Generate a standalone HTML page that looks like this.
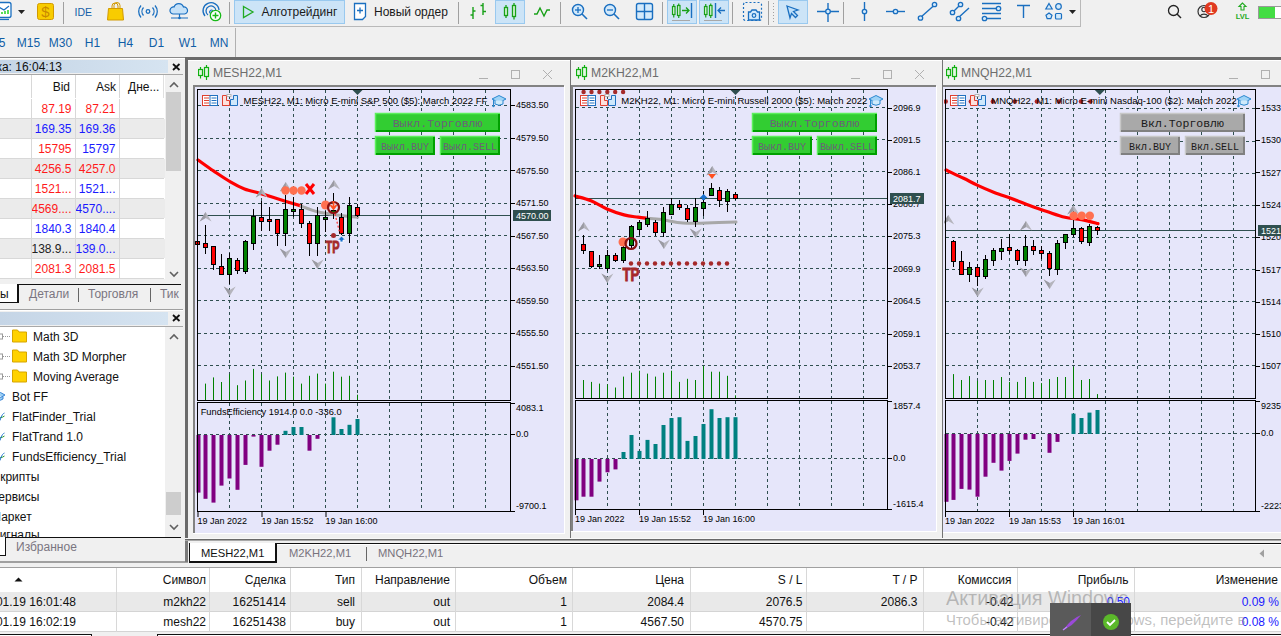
<!DOCTYPE html><html><head><meta charset="utf-8"><style>html,body{margin:0;padding:0;}body{width:1281px;height:636px;overflow:hidden;position:relative;background:#f0f0f0;font-family:"Liberation Sans",sans-serif;}</style></head><body><div style="position:absolute;left:0px;top:26px;width:1081px;height:1px;background:#b9b9b9;"></div><div style="position:absolute;left:1080px;top:0px;width:1px;height:27px;background:#b9b9b9;"></div><div style="position:absolute;left:63px;top:2px;width:1px;height:22px;background:#a0a0a0;"></div><div style="position:absolute;left:229px;top:2px;width:1px;height:22px;background:#a0a0a0;"></div><div style="position:absolute;left:458px;top:2px;width:1px;height:22px;background:#a0a0a0;"></div><div style="position:absolute;left:560px;top:2px;width:1px;height:22px;background:#a0a0a0;"></div><div style="position:absolute;left:662px;top:2px;width:1px;height:22px;background:#a0a0a0;"></div><div style="position:absolute;left:732px;top:2px;width:1px;height:22px;background:#a0a0a0;"></div><div style="position:absolute;left:768px;top:1px;width:1px;height:24px;background:#a0a0a0;"></div><div style="position:absolute;left:843px;top:2px;width:1px;height:22px;background:#a0a0a0;"></div><div style="position:absolute;left:234px;top:0px;width:111px;height:24px;background:#cce4f7;box-sizing:border-box;border:1px solid #99c9ef;"></div><div style="position:absolute;left:495px;top:0px;width:30px;height:24px;background:#cce4f7;box-sizing:border-box;border:1px solid #99c9ef;"></div><div style="position:absolute;left:667px;top:0px;width:30px;height:24px;background:#cce4f7;box-sizing:border-box;border:1px solid #99c9ef;"></div><div style="position:absolute;left:699px;top:0px;width:30px;height:24px;background:#cce4f7;box-sizing:border-box;border:1px solid #99c9ef;"></div><div style="position:absolute;left:778px;top:0px;width:30px;height:24px;background:#cce4f7;box-sizing:border-box;border:1px solid #99c9ef;"></div><svg style="position:absolute;left:0px;top:0px;" width="1281" height="26" viewBox="0 0 1281 26"><rect x="-4" y="2.5" width="15" height="15" rx="2" fill="#fff" stroke="#1a6fc0" stroke-width="1.3"/><path d="M-3 6 L4 10 L9 6" fill="none" stroke="#1a6fc0" stroke-width="1.2"/><path d="M2 14v-2 M5 14v-3 M8 14v-4" stroke="#0c0" stroke-width="1.3"/><path d="M-3 19.5 H9" stroke="#1a6fc0" stroke-width="1.2"/><path d="M18 10 h7 l-3.5 4z" fill="#222"/><rect x="37.5" y="3.5" width="16" height="16" rx="2" fill="#f8cc00" stroke="#d29a00" stroke-width="1"/><text x="45.5" y="17" font-size="15" text-anchor="middle" fill="#c98a00" font-family="Liberation Sans">$</text><text x="74.5" y="16" font-size="11.5" fill="#1560a8" font-family="Liberation Sans" textLength="17.5" lengthAdjust="spacingAndGlyphs">IDE</text><path d="M108.5 8.5 h14 l1 11.5 h-16z" fill="#f8cc00" stroke="#d29a00" stroke-width="1"/><path d="M112 8.5 v-2.5 a3 3 0 0 1 6 0 v2.5 M114 8.5 v-3 a3 3 0 0 1 6 0 v3" fill="none" stroke="#d29a00" stroke-width="1"/><circle cx="148" cy="11.5" r="1.8" fill="none" stroke="#1a6fc0" stroke-width="1.3"/><path d="M143.5 7.5 a6 6 0 0 0 0 8 M152.5 7.5 a6 6 0 0 1 0 8 M141 5.5 a9 9 0 0 0 0 12 M155 5.5 a9 9 0 0 1 0 12" fill="none" stroke="#1a6fc0" stroke-width="1.3"/><path d="M173 14 a3.5 3.5 0 0 1 1-7 a5 5 0 0 1 9.5 0 a3.5 3.5 0 0 1 1 7z" fill="#c5e1f8" stroke="#1a6fc0" stroke-width="1.2"/><path d="M179.5 14 v4 M171 18 h17" stroke="#1a6fc0" stroke-width="1.2"/><circle cx="179.5" cy="18" r="1.3" fill="#1a6fc0"/><path d="M205 16 a8 8 0 1 1 14 -6 M208 15 a5 5 0 1 1 8 -4" fill="none" stroke="#1a6fc0" stroke-width="1.3"/><circle cx="211.5" cy="12" r="2" fill="#8ec3ee" stroke="#1a6fc0"/><circle cx="215.5" cy="15.5" r="5.2" fill="#fff" stroke="#18b918" stroke-width="1.3"/><path d="M215.5 12.5v6 M212.5 15.5h6" stroke="#18b918" stroke-width="1.4"/><path d="M243.5 6.5 L253 12 L243.5 17.5z" fill="none" stroke="#22aa22" stroke-width="1.3"/><path d="M354.5 3.5 h11 v13 l-3 3 h-8z" fill="#fff" stroke="#1a6fc0" stroke-width="1.3"/><path d="M360 7.5v6 M357 10.5h6" stroke="#1a6fc0" stroke-width="1.3"/><path d="M473 7v12 M470.5 15h2.5 M473 11h2.5 M483 3v12 M480.5 5.5h2.5 M483 11.5h3" stroke="#18a018" stroke-width="1.4" fill="none"/><rect x="504.5" y="7.5" width="3" height="8" fill="#d9f5d9" stroke="#18a018" stroke-width="1.3"/><path d="M506 5v2.5 M506 15.5v2.5" stroke="#18a018" stroke-width="1.3"/><rect x="512.5" y="5.5" width="3" height="11" fill="#d9f5d9" stroke="#18a018" stroke-width="1.3"/><path d="M514 3v2.5 M514 16.5v3" stroke="#18a018" stroke-width="1.3"/><path d="M534 14 h3 l3 -6 l4 8 l3 -6 h3" fill="none" stroke="#18a018" stroke-width="1.4"/><circle cx="578" cy="10" r="5.5" fill="#d4eafb" stroke="#1a6fc0" stroke-width="1.4"/><path d="M582 14 l5 5" stroke="#1a6fc0" stroke-width="1.6"/><path d="M575 10h6" stroke="#1a6fc0" stroke-width="1.3"/><path d="M578 7v6" stroke="#1a6fc0" stroke-width="1.3"/><circle cx="610" cy="10" r="5.5" fill="#d4eafb" stroke="#1a6fc0" stroke-width="1.4"/><path d="M614 14 l5 5" stroke="#1a6fc0" stroke-width="1.6"/><path d="M607 10h6" stroke="#1a6fc0" stroke-width="1.3"/><rect x="636.5" y="3.5" width="16" height="16" rx="2" fill="#d4eafb" stroke="#1a6fc0" stroke-width="1.4"/><path d="M644.5 3.5v16 M636.5 11.5h16" stroke="#1a6fc0" stroke-width="1.4"/><rect x="672.5" y="6.5" width="2.5" height="8" fill="#d9f5d9" stroke="#18a018" stroke-width="1.2"/><path d="M673.75 4v2.5 M673.75 14.5v3" stroke="#18a018" stroke-width="1.2"/><rect x="677.5" y="5.5" width="2.5" height="10" fill="#d9f5d9" stroke="#18a018" stroke-width="1.2"/><path d="M678.75 3.5v2 M678.75 15.5v2.5" stroke="#18a018" stroke-width="1.2"/><path d="M672 20.5h18" stroke="#a8a8a8" stroke-width="1"/><path d="M682 10.5h7 M686 7.5l3 3l-3 3" fill="none" stroke="#18a018" stroke-width="1.3"/><path d="M691.5 3v15" stroke="#1a6fc0" stroke-width="1.4"/><rect x="704.5" y="6.5" width="2.5" height="8" fill="#d9f5d9" stroke="#18a018" stroke-width="1.2"/><path d="M705.75 4v2.5 M705.75 14.5v3" stroke="#18a018" stroke-width="1.2"/><rect x="709.5" y="5.5" width="2.5" height="10" fill="#d9f5d9" stroke="#18a018" stroke-width="1.2"/><path d="M710.75 3.5v2 M710.75 15.5v2.5" stroke="#18a018" stroke-width="1.2"/><path d="M704 20.5h18" stroke="#a8a8a8" stroke-width="1"/><path d="M715.5 3v15" stroke="#1a6fc0" stroke-width="1.4"/><path d="M718 10.5h7 M721 7.5l-3 3l3 3" fill="none" stroke="#1a6fc0" stroke-width="1.3"/><rect x="743.5" y="2.5" width="18" height="18" rx="2" fill="none" stroke="#1a6fc0" stroke-width="1.2" stroke-dasharray="2 2"/><path d="M748.5 12 h2 l1.5 -2 h4 l1.5 2 h2 v8 h-11z" fill="#d4eafb" stroke="#1a6fc0" stroke-width="1.3"/><circle cx="754" cy="15.5" r="1.8" fill="none" stroke="#1a6fc0" stroke-width="1.2"/><rect x="773" y="3" width="1" height="1" fill="#a0a0a0"/><rect x="773" y="6" width="1" height="1" fill="#a0a0a0"/><rect x="773" y="9" width="1" height="1" fill="#a0a0a0"/><rect x="773" y="12" width="1" height="1" fill="#a0a0a0"/><rect x="773" y="15" width="1" height="1" fill="#a0a0a0"/><rect x="773" y="18" width="1" height="1" fill="#a0a0a0"/><rect x="773" y="21" width="1" height="1" fill="#a0a0a0"/><path d="M787 6 l11 4 l-4.5 1.5 l4 4 l-2 2 l-4 -4 l-1.5 4.5z" fill="#bfe0fa" stroke="#1a6fc0" stroke-width="1.3"/><path d="M828 3v19 M817 11.5h22" stroke="#1a6fc0" stroke-width="1.4"/><circle cx="828" cy="11.5" r="2.3" fill="#d4eafb" stroke="#1a6fc0" stroke-width="1.3"/><path d="M864.5 2v19" stroke="#1a6fc0" stroke-width="1.4"/><circle cx="864.5" cy="11.5" r="2.2" fill="#d4eafb" stroke="#1a6fc0" stroke-width="1.3"/><path d="M886 11.5h19" stroke="#1a6fc0" stroke-width="1.4"/><circle cx="895.5" cy="11.5" r="2.2" fill="#d4eafb" stroke="#1a6fc0" stroke-width="1.3"/><path d="M920.5 17.5 L934.5 5" stroke="#1a6fc0" stroke-width="1.4"/><circle cx="920.5" cy="18" r="2.2" fill="#d4eafb" stroke="#1a6fc0" stroke-width="1.3"/><circle cx="934.5" cy="4.5" r="2.2" fill="#d4eafb" stroke="#1a6fc0" stroke-width="1.3"/><path d="M952.5 12.5 L960.5 4.5 M958 18 L969 8" stroke="#1a6fc0" stroke-width="1.4"/><circle cx="952.5" cy="12.5" r="2.2" fill="#d4eafb" stroke="#1a6fc0" stroke-width="1.3"/><circle cx="960.5" cy="4.5" r="2.2" fill="#d4eafb" stroke="#1a6fc0" stroke-width="1.3"/><circle cx="958.5" cy="18.5" r="2.2" fill="#d4eafb" stroke="#1a6fc0" stroke-width="1.3"/><path d="M982 3.5h19 M982 8.5h16 M982 13.5h19 M985 18.5h16" stroke="#1a6fc0" stroke-width="1.4"/><circle cx="998.5" cy="8.5" r="2.2" fill="#d4eafb" stroke="#1a6fc0" stroke-width="1.3"/><circle cx="984.5" cy="18.5" r="2.2" fill="#d4eafb" stroke="#1a6fc0" stroke-width="1.3"/><path d="M1017 5.5h13 M1023.5 5.5v12.5" stroke="#1a6fc0" stroke-width="1.4"/><path d="M1049 3.5 l3.2 5.5 h-6.4z" fill="#d4eafb" stroke="#1a6fc0" stroke-width="1.2"/><circle cx="1058.5" cy="6.5" r="2.8" fill="#d4eafb" stroke="#1a6fc0" stroke-width="1.2"/><path d="M1049 13 l3 2.2 l-1.2 3.5 h-3.6 l-1.2 -3.5z" fill="#d4eafb" stroke="#1a6fc0" stroke-width="1.2"/><rect x="1055.5" y="13.5" width="6" height="5.5" rx="1" fill="#d4eafb" stroke="#1a6fc0" stroke-width="1.2"/><path d="M1069 10 h7 l-3.5 4z" fill="#222"/><circle cx="1173.5" cy="10.5" r="5" fill="none" stroke="#222" stroke-width="1.3"/><path d="M1177 14 l4 4" stroke="#222" stroke-width="1.5"/><circle cx="1204" cy="11.5" r="6" fill="none" stroke="#333" stroke-width="1.2"/><circle cx="1204" cy="9.5" r="2.2" fill="none" stroke="#333" stroke-width="1.1"/><path d="M1200 16 a4.5 3.5 0 0 1 8 0" fill="none" stroke="#333" stroke-width="1.1"/><circle cx="1211" cy="8.5" r="6.5" fill="#e03a20"/><text x="1211" y="12.5" font-size="11" text-anchor="middle" fill="#fff" font-family="Liberation Sans">1</text><path d="M1242.5 3 l-3.5 3.5 h2 v3.5 h3 v-3.5 h2z" fill="none" stroke="#22aa22" stroke-width="1.1"/><text x="1242.5" y="19" font-size="7.5" text-anchor="middle" fill="#22aa22" font-family="Liberation Sans" font-weight="bold">LVL</text><rect x="1258.5" y="6.5" width="30" height="12" fill="#fff" stroke="#999"/><rect x="1259" y="7" width="16" height="11" fill="#44dd44"/></svg><div style="position:absolute;left:261.5px;top:6.2px;font-size:12px;line-height:12px;color:#1a1a1a;white-space:nowrap;font-family:"Liberation Sans", sans-serif;">Алготрейдинг</div><div style="position:absolute;left:374px;top:6.2px;font-size:12px;line-height:12px;color:#1a1a1a;white-space:nowrap;font-family:"Liberation Sans", sans-serif;">Новый ордер</div><div style="position:absolute;left:0px;top:57px;width:1281px;height:1px;background:#a8a8a8;"></div><div style="position:absolute;left:235px;top:28px;width:1px;height:29px;background:#b0b0b0;"></div><div style="position:absolute;left:-11.2px;top:36.7px;font-size:12px;line-height:12px;color:#115ea6;white-space:nowrap;font-family:"Liberation Sans", sans-serif;">M5</div><div style="position:absolute;left:16.8px;top:36.7px;font-size:12px;line-height:12px;color:#115ea6;white-space:nowrap;font-family:"Liberation Sans", sans-serif;">M15</div><div style="position:absolute;left:48.8px;top:36.7px;font-size:12px;line-height:12px;color:#115ea6;white-space:nowrap;font-family:"Liberation Sans", sans-serif;">M30</div><div style="position:absolute;left:84.8px;top:36.7px;font-size:12px;line-height:12px;color:#115ea6;white-space:nowrap;font-family:"Liberation Sans", sans-serif;">H1</div><div style="position:absolute;left:117.8px;top:36.7px;font-size:12px;line-height:12px;color:#115ea6;white-space:nowrap;font-family:"Liberation Sans", sans-serif;">H4</div><div style="position:absolute;left:148.8px;top:36.7px;font-size:12px;line-height:12px;color:#115ea6;white-space:nowrap;font-family:"Liberation Sans", sans-serif;">D1</div><div style="position:absolute;left:178.8px;top:36.7px;font-size:12px;line-height:12px;color:#115ea6;white-space:nowrap;font-family:"Liberation Sans", sans-serif;">W1</div><div style="position:absolute;left:209.8px;top:36.7px;font-size:12px;line-height:12px;color:#115ea6;white-space:nowrap;font-family:"Liberation Sans", sans-serif;">MN</div><div style="position:absolute;left:0px;top:57px;width:185px;height:1px;background:#8a8a8a;"></div><div style="position:absolute;left:0px;top:58px;width:185px;height:1px;background:#ffffff;"></div><div style="position:absolute;left:0px;top:60px;width:168px;height:13px;background:linear-gradient(90deg,#c5d5e6,#d6e4f1);"></div><div style="position:absolute;left:-63.5px;top:60.7px;font-size:12px;line-height:12px;color:#111;white-space:nowrap;font-family:"Liberation Sans", sans-serif;">Обзор рынка: 16:04:13</div><svg style="position:absolute;left:172px;top:63px" width="9" height="8"><path d="M1 1l6.5 6M7.5 1l-6.5 6" stroke="#111" stroke-width="1.8"/></svg><div style="position:absolute;left:0px;top:74px;width:183px;height:1px;background:#a8a8a8;"></div><div style="position:absolute;left:0px;top:75px;width:165px;height:205px;background:#ffffff;"></div><div style="position:absolute;left:0px;top:118px;width:164px;height:1px;background:#d8d8d8;"></div><div style="position:absolute;right:1209.5px;text-align:right;top:102.7px;font-size:12px;line-height:12px;color:#ff1a1a;white-space:nowrap;font-family:"Liberation Sans", sans-serif;letter-spacing:-0.6px;">87.19</div><div style="position:absolute;right:1165.5px;text-align:right;top:102.7px;font-size:12px;line-height:12px;color:#ff1a1a;white-space:nowrap;font-family:"Liberation Sans", sans-serif;letter-spacing:-0.6px;">87.21</div><div style="position:absolute;left:0px;top:119px;width:165px;height:19px;background:#ebebeb;"></div><div style="position:absolute;left:0px;top:138px;width:164px;height:1px;background:#d8d8d8;"></div><div style="position:absolute;right:1209.5px;text-align:right;top:122.7px;font-size:12px;line-height:12px;color:#1a1aff;white-space:nowrap;font-family:"Liberation Sans", sans-serif;letter-spacing:-0.6px;">169.35</div><div style="position:absolute;right:1165.5px;text-align:right;top:122.7px;font-size:12px;line-height:12px;color:#1a1aff;white-space:nowrap;font-family:"Liberation Sans", sans-serif;letter-spacing:-0.6px;">169.36</div><div style="position:absolute;left:0px;top:158px;width:164px;height:1px;background:#d8d8d8;"></div><div style="position:absolute;right:1209.5px;text-align:right;top:142.7px;font-size:12px;line-height:12px;color:#ff1a1a;white-space:nowrap;font-family:"Liberation Sans", sans-serif;letter-spacing:-0.6px;">15795</div><div style="position:absolute;right:1165.5px;text-align:right;top:142.7px;font-size:12px;line-height:12px;color:#1a1aff;white-space:nowrap;font-family:"Liberation Sans", sans-serif;letter-spacing:-0.6px;">15797</div><div style="position:absolute;left:0px;top:159px;width:165px;height:19px;background:#ebebeb;"></div><div style="position:absolute;left:0px;top:178px;width:164px;height:1px;background:#d8d8d8;"></div><div style="position:absolute;right:1209.5px;text-align:right;top:162.7px;font-size:12px;line-height:12px;color:#ff1a1a;white-space:nowrap;font-family:"Liberation Sans", sans-serif;letter-spacing:-0.6px;">4256.5</div><div style="position:absolute;right:1165.5px;text-align:right;top:162.7px;font-size:12px;line-height:12px;color:#ff1a1a;white-space:nowrap;font-family:"Liberation Sans", sans-serif;letter-spacing:-0.6px;">4257.0</div><div style="position:absolute;left:0px;top:198px;width:164px;height:1px;background:#d8d8d8;"></div><div style="position:absolute;right:1209.5px;text-align:right;top:182.7px;font-size:12px;line-height:12px;color:#ff1a1a;white-space:nowrap;font-family:"Liberation Sans", sans-serif;letter-spacing:-0.6px;">1521...</div><div style="position:absolute;right:1165.5px;text-align:right;top:182.7px;font-size:12px;line-height:12px;color:#1a1aff;white-space:nowrap;font-family:"Liberation Sans", sans-serif;letter-spacing:-0.6px;">1521...</div><div style="position:absolute;left:0px;top:199px;width:165px;height:19px;background:#ebebeb;"></div><div style="position:absolute;left:0px;top:218px;width:164px;height:1px;background:#d8d8d8;"></div><div style="position:absolute;right:1209.5px;text-align:right;top:202.7px;font-size:12px;line-height:12px;color:#ff1a1a;white-space:nowrap;font-family:"Liberation Sans", sans-serif;letter-spacing:-0.6px;">4569....</div><div style="position:absolute;right:1165.5px;text-align:right;top:202.7px;font-size:12px;line-height:12px;color:#1a1aff;white-space:nowrap;font-family:"Liberation Sans", sans-serif;letter-spacing:-0.6px;">4570....</div><div style="position:absolute;left:0px;top:238px;width:164px;height:1px;background:#d8d8d8;"></div><div style="position:absolute;right:1209.5px;text-align:right;top:222.7px;font-size:12px;line-height:12px;color:#1a1aff;white-space:nowrap;font-family:"Liberation Sans", sans-serif;letter-spacing:-0.6px;">1840.3</div><div style="position:absolute;right:1165.5px;text-align:right;top:222.7px;font-size:12px;line-height:12px;color:#1a1aff;white-space:nowrap;font-family:"Liberation Sans", sans-serif;letter-spacing:-0.6px;">1840.4</div><div style="position:absolute;left:0px;top:239px;width:165px;height:19px;background:#ebebeb;"></div><div style="position:absolute;left:0px;top:258px;width:164px;height:1px;background:#d8d8d8;"></div><div style="position:absolute;right:1209.5px;text-align:right;top:242.7px;font-size:12px;line-height:12px;color:#222;white-space:nowrap;font-family:"Liberation Sans", sans-serif;letter-spacing:-0.6px;">138.9...</div><div style="position:absolute;right:1165.5px;text-align:right;top:242.7px;font-size:12px;line-height:12px;color:#1a1aff;white-space:nowrap;font-family:"Liberation Sans", sans-serif;letter-spacing:-0.6px;">139.0...</div><div style="position:absolute;left:0px;top:278px;width:164px;height:1px;background:#d8d8d8;"></div><div style="position:absolute;right:1209.5px;text-align:right;top:262.7px;font-size:12px;line-height:12px;color:#ff1a1a;white-space:nowrap;font-family:"Liberation Sans", sans-serif;letter-spacing:-0.6px;">2081.3</div><div style="position:absolute;right:1165.5px;text-align:right;top:262.7px;font-size:12px;line-height:12px;color:#ff1a1a;white-space:nowrap;font-family:"Liberation Sans", sans-serif;letter-spacing:-0.6px;">2081.5</div><div style="position:absolute;left:31px;top:75px;width:1px;height:204px;background:#d8d8d8;"></div><div style="position:absolute;left:75px;top:75px;width:1px;height:204px;background:#d8d8d8;"></div><div style="position:absolute;left:119px;top:75px;width:1px;height:204px;background:#d8d8d8;"></div><div style="position:absolute;left:163px;top:75px;width:1px;height:24px;background:#e0e0e0;"></div><div style="position:absolute;right:1211px;text-align:right;top:81.2px;font-size:12px;line-height:12px;color:#111;white-space:nowrap;font-family:"Liberation Sans", sans-serif;">Bid</div><div style="position:absolute;right:1165px;text-align:right;top:81.2px;font-size:12px;line-height:12px;color:#111;white-space:nowrap;font-family:"Liberation Sans", sans-serif;">Ask</div><div style="position:absolute;left:128px;top:81.2px;font-size:12px;line-height:12px;color:#111;white-space:nowrap;font-family:"Liberation Sans", sans-serif;">Дне...</div><div style="position:absolute;left:0px;top:98px;width:164px;height:1px;background:#ffffff;"></div><div style="position:absolute;left:165px;top:75px;width:18px;height:205px;background:#f0f0f0;"></div><div style="position:absolute;left:166px;top:92px;width:15px;height:79px;background:#cdcdcd;"></div><svg style="position:absolute;left:165px;top:78px" width="18" height="202"><path d="M5 9l4-4l4 4" fill="none" stroke="#606060" stroke-width="1.6"/><path d="M5 194l4 4l4-4" fill="none" stroke="#606060" stroke-width="1.6"/></svg><div style="position:absolute;left:0px;top:279px;width:183px;height:30px;background:#f0f0f0;"></div><div style="position:absolute;left:18px;top:284px;width:163px;height:1px;background:#111;"></div><div style="position:absolute;left:0px;top:284px;width:18px;height:19px;background:#ffffff;box-sizing:border-box;border-right:1px solid #111;border-bottom:1px solid #111;"></div><div style="position:absolute;left:18px;top:284px;width:1px;height:19px;background:#111;"></div><div style="position:absolute;left:-43.3px;top:287.7px;font-size:12px;line-height:12px;color:#111;white-space:nowrap;font-family:"Liberation Sans", sans-serif;">Символы</div><div style="position:absolute;left:29px;top:287.7px;font-size:12px;line-height:12px;color:#7a7580;white-space:nowrap;font-family:"Liberation Sans", sans-serif;">Детали</div><div style="position:absolute;left:78px;top:288px;width:1px;height:14px;background:#666;"></div><div style="position:absolute;left:88px;top:287.7px;font-size:12px;line-height:12px;color:#7a7580;white-space:nowrap;font-family:"Liberation Sans", sans-serif;">Торговля</div><div style="position:absolute;left:150px;top:288px;width:1px;height:14px;background:#666;"></div><div style="position:absolute;left:160px;top:287.7px;font-size:12px;line-height:12px;color:#7a7580;white-space:nowrap;font-family:"Liberation Sans", sans-serif;">Тик</div><div style="position:absolute;left:0px;top:309px;width:185px;height:1px;background:#a0a0a0;"></div><div style="position:absolute;left:0px;top:310px;width:185px;height:1px;background:#ffffff;"></div><div style="position:absolute;left:0px;top:312px;width:168px;height:13px;background:linear-gradient(90deg,#c5d5e6,#d6e4f1);"></div><svg style="position:absolute;left:172px;top:314px" width="9" height="8"><path d="M1 1l6.5 6M7.5 1l-6.5 6" stroke="#111" stroke-width="1.8"/></svg><div style="position:absolute;left:0px;top:326px;width:183px;height:1px;background:#a8a8a8;"></div><div style="position:absolute;left:0px;top:327px;width:165px;height:210px;background:#ffffff;"></div><div style="position:absolute;left:165px;top:327px;width:18px;height:210px;background:#f0f0f0;"></div><div style="position:absolute;left:166px;top:492px;width:15px;height:23px;background:#cdcdcd;"></div><svg style="position:absolute;left:165px;top:329px" width="18" height="206"><path d="M5 10l4-4l4 4" fill="none" stroke="#606060" stroke-width="1.6"/><path d="M5 196l4 4l4-4" fill="none" stroke="#606060" stroke-width="1.6"/></svg><svg style="position:absolute;left:0px;top:327px;" width="165" height="210" viewBox="0 0 165 210"><rect x="-2.5" y="7.0" width="5" height="5" fill="#fff" stroke="#9a9a9a"/><path d="M3 9.5h7" stroke="#9a9a9a" stroke-dasharray="1 1"/><path d="M12.5 3.0 h5 l1.5 2 h7.5 v10 h-14z" fill="#ffd200" stroke="#d6a500" stroke-width="1"/><rect x="-2.5" y="27.0" width="5" height="5" fill="#fff" stroke="#9a9a9a"/><path d="M3 29.5h7" stroke="#9a9a9a" stroke-dasharray="1 1"/><path d="M12.5 23.0 h5 l1.5 2 h7.5 v10 h-14z" fill="#ffd200" stroke="#d6a500" stroke-width="1"/><rect x="-2.5" y="47.0" width="5" height="5" fill="#fff" stroke="#9a9a9a"/><path d="M3 49.5h7" stroke="#9a9a9a" stroke-dasharray="1 1"/><path d="M12.5 43.0 h5 l1.5 2 h7.5 v10 h-14z" fill="#ffd200" stroke="#d6a500" stroke-width="1"/><path d="M-4 68 l4.5 -2.5 l4.5 2.5 l-4.5 2.5z M-2 69.5 v2.5 l2.5 1.2 l2.5 -1.2 v-2.5" fill="#9ccff5" stroke="#2a7ad0" stroke-width="0.9"/><path d="M-0.5 91.0 q3 -0.5 5 -2" fill="none" stroke="#2a9a2a" stroke-width="1"/><path d="M0 93.5 q1 -4 2.5 -6 q0.8 -1 2 -1.5" fill="none" stroke="#2a7ad0" stroke-width="1"/><path d="M-0.5 111.0 q3 -0.5 5 -2" fill="none" stroke="#2a9a2a" stroke-width="1"/><path d="M0 113.5 q1 -4 2.5 -6 q0.8 -1 2 -1.5" fill="none" stroke="#2a7ad0" stroke-width="1"/><path d="M-0.5 131.0 q3 -0.5 5 -2" fill="none" stroke="#2a9a2a" stroke-width="1"/><path d="M0 133.5 q1 -4 2.5 -6 q0.8 -1 2 -1.5" fill="none" stroke="#2a7ad0" stroke-width="1"/></svg><div style="position:absolute;left:33px;top:330.7px;font-size:12px;line-height:12px;color:#111;white-space:nowrap;font-family:"Liberation Sans", sans-serif;">Math 3D</div><div style="position:absolute;left:33px;top:350.7px;font-size:12px;line-height:12px;color:#111;white-space:nowrap;font-family:"Liberation Sans", sans-serif;">Math 3D Morpher</div><div style="position:absolute;left:33px;top:370.7px;font-size:12px;line-height:12px;color:#111;white-space:nowrap;font-family:"Liberation Sans", sans-serif;">Moving Average</div><div style="position:absolute;left:12px;top:390.7px;font-size:12px;line-height:12px;color:#111;white-space:nowrap;font-family:"Liberation Sans", sans-serif;">Bot FF</div><div style="position:absolute;left:12px;top:410.7px;font-size:12px;line-height:12px;color:#111;white-space:nowrap;font-family:"Liberation Sans", sans-serif;">FlatFinder_Trial</div><div style="position:absolute;left:12px;top:430.7px;font-size:12px;line-height:12px;color:#111;white-space:nowrap;font-family:"Liberation Sans", sans-serif;">FlatTrand 1.0</div><div style="position:absolute;left:12px;top:450.7px;font-size:12px;line-height:12px;color:#111;white-space:nowrap;font-family:"Liberation Sans", sans-serif;">FundsEfficiency_Trial</div><div style="position:absolute;left:-8.5px;top:470.7px;font-size:12px;line-height:12px;color:#111;white-space:nowrap;font-family:"Liberation Sans", sans-serif;">Скрипты</div><div style="position:absolute;left:-10.3px;top:490.7px;font-size:12px;line-height:12px;color:#111;white-space:nowrap;font-family:"Liberation Sans", sans-serif;">Сервисы</div><div style="position:absolute;left:-9px;top:510.7px;font-size:12px;line-height:12px;color:#111;white-space:nowrap;font-family:"Liberation Sans", sans-serif;">Маркет</div><div style="position:absolute;left:0;top:530px;width:165px;height:7px;overflow:hidden"><div style="position:absolute;left:-9px;top:-0.8px;font-size:12px;line-height:12px;color:#111;font-family:'Liberation Sans',sans-serif">Сигналы</div></div><div style="position:absolute;left:0px;top:537px;width:183px;height:21px;background:#f0f0f0;"></div><div style="position:absolute;left:6px;top:537px;width:175px;height:1px;background:#111;"></div><div style="position:absolute;left:0px;top:537px;width:6px;height:19px;background:#ffffff;box-sizing:border-box;border-right:1px solid #111;border-bottom:1px solid #111;"></div><div style="position:absolute;left:16px;top:541.2px;font-size:12px;line-height:12px;color:#7a7580;white-space:nowrap;font-family:"Liberation Sans", sans-serif;">Избранное</div><div style="position:absolute;left:0px;top:561px;width:185px;height:1px;background:#a0a0a0;"></div><div style="position:absolute;left:183px;top:60px;width:2px;height:498px;background:#f0f0f0;"></div><div style="position:absolute;left:185px;top:57px;width:1096px;height:3px;background:#6a6a6a;"></div><div style="position:absolute;left:185px;top:57px;width:3px;height:484px;background:#6a6a6a;"></div><div style="position:absolute;left:185px;top:538px;width:1096px;height:1px;background:#f8f8f8;"></div><div style="position:absolute;left:185px;top:539px;width:1096px;height:1px;background:#696969;"></div><div style="position:absolute;left:185px;top:540px;width:1096px;height:1px;background:#a8a8a8;"></div><div style="position:absolute;left:185px;top:541px;width:1096px;height:2px;background:#ffffff;"></div><div style="position:absolute;left:188px;top:60px;width:382px;height:26px;background:#f0f0f0;"></div><div style="position:absolute;left:188px;top:60px;width:382px;height:1px;background:#ffffff;"></div><svg style="position:absolute;left:198px;top:64px" width="14" height="16"><rect x="0.5" y="5.5" width="4" height="6" fill="#dff7df" stroke="#10b010" stroke-width="1.2"/><path d="M2.5 3v2.5M2.5 11.5v3" stroke="#10b010" stroke-width="1.2"/><rect x="6.5" y="3.5" width="4" height="9" fill="#dff7df" stroke="#10b010" stroke-width="1.2"/><path d="M8.5 1v2.5M8.5 12.5v3.5" stroke="#10b010" stroke-width="1.2"/></svg><div style="position:absolute;left:213px;top:66.6px;font-size:12.2px;line-height:12.2px;color:#6d6d6d;white-space:nowrap;font-family:"Liberation Sans", sans-serif;">MESH22,M1</div><svg style="position:absolute;left:479px;top:66px" width="80" height="16"><path d="M0 12.5h9" stroke="#b0b0b0" stroke-width="1"/><rect x="32.5" y="4.5" width="8" height="8" fill="none" stroke="#b0b0b0"/><path d="M64 4l9 9M73 4l-9 9" stroke="#b0b0b0" stroke-width="1"/></svg><div style="position:absolute;left:193px;top:85px;width:371px;height:2px;background:#828282;"></div><div style="position:absolute;left:193px;top:85px;width:2px;height:448px;background:#828282;"></div><div style="position:absolute;left:195px;top:87px;width:369px;height:446px;background:#e6e6fa;"></div><div style="position:absolute;left:193px;top:533px;width:372px;height:1px;background:#ffffff;"></div><div style="position:absolute;left:564px;top:86px;width:1px;height:448px;background:#ffffff;"></div><svg style="position:absolute;left:194px;top:87px;shape-rendering:auto;" width="370" height="446" viewBox="0 0 370 446"><path d="M35.5 3 V313" stroke="#2f4f4f" stroke-dasharray="3 3"/><path d="M35.5 316 V424" stroke="#2f4f4f" stroke-dasharray="3 3"/><path d="M67.5 3 V313" stroke="#2f4f4f" stroke-dasharray="3 3"/><path d="M67.5 316 V424" stroke="#2f4f4f" stroke-dasharray="3 3"/><path d="M99.5 3 V313" stroke="#2f4f4f" stroke-dasharray="3 3"/><path d="M99.5 316 V424" stroke="#2f4f4f" stroke-dasharray="3 3"/><path d="M131.5 3 V313" stroke="#2f4f4f" stroke-dasharray="3 3"/><path d="M131.5 316 V424" stroke="#2f4f4f" stroke-dasharray="3 3"/><path d="M163.5 3 V313" stroke="#2f4f4f" stroke-dasharray="3 3"/><path d="M163.5 316 V424" stroke="#2f4f4f" stroke-dasharray="3 3"/><path d="M195.5 3 V313" stroke="#2f4f4f" stroke-dasharray="3 3"/><path d="M195.5 316 V424" stroke="#2f4f4f" stroke-dasharray="3 3"/><path d="M227.5 3 V313" stroke="#2f4f4f" stroke-dasharray="3 3"/><path d="M227.5 316 V424" stroke="#2f4f4f" stroke-dasharray="3 3"/><path d="M259.5 3 V313" stroke="#2f4f4f" stroke-dasharray="3 3"/><path d="M259.5 316 V424" stroke="#2f4f4f" stroke-dasharray="3 3"/><path d="M291.5 3 V313" stroke="#2f4f4f" stroke-dasharray="3 3"/><path d="M291.5 316 V424" stroke="#2f4f4f" stroke-dasharray="3 3"/><path d="M4 18.5 H316" stroke="#2f4f4f" stroke-dasharray="3 3"/><path d="M4 51.5 H316" stroke="#2f4f4f" stroke-dasharray="3 3"/><path d="M4 83.5 H316" stroke="#2f4f4f" stroke-dasharray="3 3"/><path d="M4 116.5 H316" stroke="#2f4f4f" stroke-dasharray="3 3"/><path d="M4 148.5 H316" stroke="#2f4f4f" stroke-dasharray="3 3"/><path d="M4 181.5 H316" stroke="#2f4f4f" stroke-dasharray="3 3"/><path d="M4 213.5 H316" stroke="#2f4f4f" stroke-dasharray="3 3"/><path d="M4 246.5 H316" stroke="#2f4f4f" stroke-dasharray="3 3"/><path d="M4 278.5 H316" stroke="#2f4f4f" stroke-dasharray="3 3"/><path d="M4 347.5 H316" stroke="#2f4f4f" stroke-dasharray="3 3"/><rect x="11" y="296.6" width="1" height="16.399999999999977" fill="#008000"/><rect x="19" y="290.4" width="1" height="22.600000000000023" fill="#008000"/><rect x="27" y="295" width="1" height="18" fill="#008000"/><rect x="35" y="287.2" width="1" height="25.80000000000001" fill="#008000"/><rect x="43" y="298.2" width="1" height="14.800000000000011" fill="#008000"/><rect x="51" y="293.5" width="1" height="19.5" fill="#008000"/><rect x="59" y="281.9" width="1" height="31.100000000000023" fill="#008000"/><rect x="67" y="287.2" width="1" height="25.80000000000001" fill="#008000"/><rect x="75" y="293.5" width="1" height="19.5" fill="#008000"/><rect x="83" y="289.4" width="1" height="23.600000000000023" fill="#008000"/><rect x="91" y="285.6" width="1" height="27.399999999999977" fill="#008000"/><rect x="99" y="289.7" width="1" height="23.30000000000001" fill="#008000"/><rect x="107" y="296.6" width="1" height="16.399999999999977" fill="#008000"/><rect x="115" y="288.8" width="1" height="24.19999999999999" fill="#008000"/><rect x="123" y="286.6" width="1" height="26.399999999999977" fill="#008000"/><rect x="131" y="296.6" width="1" height="16.399999999999977" fill="#008000"/><rect x="139" y="284.7" width="1" height="28.30000000000001" fill="#008000"/><rect x="147" y="289.7" width="1" height="23.30000000000001" fill="#008000"/><rect x="155" y="288.8" width="1" height="24.19999999999999" fill="#008000"/><rect x="163" y="307.7" width="1" height="5.300000000000011" fill="#008000"/><rect x="2.5" y="348" width="4" height="57.60000000000002" fill="#800080"/><rect x="9.5" y="348" width="4" height="63.80000000000001" fill="#800080"/><rect x="17.5" y="348" width="4" height="67.60000000000002" fill="#800080"/><rect x="25.5" y="348" width="4" height="50.60000000000002" fill="#800080"/><rect x="33.5" y="348" width="4" height="43.5" fill="#800080"/><rect x="41.5" y="348" width="4" height="54.80000000000001" fill="#800080"/><rect x="49.5" y="348" width="4" height="29.899999999999977" fill="#800080"/><rect x="57.5" y="348" width="4" height="1.6000000000000227" fill="#800080"/><rect x="65.5" y="348" width="4" height="31.80000000000001" fill="#800080"/><rect x="73.5" y="348" width="4" height="15.699999999999989" fill="#800080"/><rect x="81.5" y="348" width="4" height="9.699999999999989" fill="#800080"/><rect x="89.5" y="343.8" width="4" height="4.199999999999989" fill="#008080"/><rect x="97.5" y="340" width="4" height="8" fill="#008080"/><rect x="105.5" y="340" width="4" height="8" fill="#008080"/><rect x="113.5" y="348" width="4" height="15.699999999999989" fill="#800080"/><rect x="121.5" y="348" width="4" height="3.8000000000000114" fill="#800080"/><rect x="137.5" y="330.3" width="4" height="17.69999999999999" fill="#008080"/><rect x="145.5" y="342" width="4" height="6" fill="#008080"/><rect x="153.5" y="337.8" width="4" height="10.199999999999989" fill="#008080"/><rect x="161.5" y="332" width="4" height="16" fill="#008080"/><path d="M4 128.5 H316" stroke="#2f4f4f" stroke-width="1"/><path d="M4.0 73.0 C6.7 74.9 14.5 80.6 19.9 84.2 C25.3 87.8 31.3 91.9 36.4 94.8 C41.5 97.8 45.4 99.9 50.5 101.9 C55.6 103.9 61.5 104.9 67.0 106.6 C72.5 108.2 76.8 109.8 83.5 111.8 C90.2 113.9 103.1 117.7 107.0 118.9" fill="none" stroke="#ff0000" stroke-width="3.2" stroke-linecap="round"/><path d="M107.0 119.0 C109.8 120.0 117.7 123.3 123.6 124.8 C129.5 126.3 135.8 127.0 142.5 127.9 C149.2 128.8 160.2 129.8 163.7 130.2" fill="none" stroke="#a8a8a8" stroke-width="3" stroke-linecap="round"/><rect x="3" y="153" width="1" height="6" fill="#000"/><rect x="1.5" y="154.5" width="4" height="3" fill="#ff0000" stroke="#000" stroke-width="1"/><rect x="11" y="138" width="1" height="29" fill="#000"/><rect x="9.5" y="156.5" width="4" height="4" fill="#ff0000" stroke="#000" stroke-width="1"/><rect x="19" y="159" width="1" height="24" fill="#000"/><rect x="17.5" y="159.5" width="4" height="18" fill="#ff0000" stroke="#000" stroke-width="1"/><rect x="27" y="167" width="1" height="20" fill="#000"/><rect x="25.5" y="179.5" width="4" height="8" fill="#ff0000" stroke="#000" stroke-width="1"/><rect x="35" y="166" width="1" height="31" fill="#000"/><rect x="33.5" y="171.5" width="4" height="16" fill="#008000" stroke="#000" stroke-width="1"/><rect x="43" y="171" width="1" height="16" fill="#000"/><rect x="41.5" y="173.5" width="4" height="10" fill="#ff0000" stroke="#000" stroke-width="1"/><rect x="51" y="153" width="1" height="34" fill="#000"/><rect x="49.5" y="154.5" width="4" height="30" fill="#008000" stroke="#000" stroke-width="1"/><rect x="59" y="122" width="1" height="41" fill="#000"/><rect x="57.5" y="129.5" width="4" height="27" fill="#008000" stroke="#000" stroke-width="1"/><rect x="67" y="114" width="1" height="30" fill="#000"/><rect x="65.5" y="130.5" width="4" height="4" fill="#ff0000" stroke="#000" stroke-width="1"/><rect x="75" y="120" width="1" height="24" fill="#000"/><rect x="73.5" y="132.5" width="4" height="2" fill="#ff0000" stroke="#000" stroke-width="1"/><rect x="83" y="132" width="1" height="27" fill="#000"/><rect x="81.5" y="132.5" width="4" height="14" fill="#ff0000" stroke="#000" stroke-width="1"/><rect x="91" y="108" width="1" height="51" fill="#000"/><rect x="89.5" y="122.5" width="4" height="24" fill="#008000" stroke="#000" stroke-width="1"/><rect x="99" y="110" width="1" height="20" fill="#000"/><rect x="97.5" y="122.5" width="4" height="2" fill="#008000" stroke="#000" stroke-width="1"/><rect x="107" y="117" width="1" height="24" fill="#000"/><rect x="105.5" y="122.5" width="4" height="14" fill="#ff0000" stroke="#000" stroke-width="1"/><rect x="115" y="134" width="1" height="35" fill="#000"/><rect x="113.5" y="136.5" width="4" height="20" fill="#ff0000" stroke="#000" stroke-width="1"/><rect x="123" y="120" width="1" height="49" fill="#000"/><rect x="121.5" y="128.5" width="4" height="28" fill="#008000" stroke="#000" stroke-width="1"/><rect x="131" y="124" width="1" height="21" fill="#000"/><rect x="129.5" y="130.5" width="4" height="2" fill="#008000" stroke="#000" stroke-width="1"/><rect x="139" y="106" width="1" height="26" fill="#000"/><rect x="137.5" y="123.5" width="4" height="2" fill="#008000" stroke="#000" stroke-width="1"/><rect x="147" y="126" width="1" height="22" fill="#000"/><rect x="145.5" y="130.5" width="4" height="16" fill="#ff0000" stroke="#000" stroke-width="1"/><rect x="155" y="110" width="1" height="46" fill="#000"/><rect x="153.5" y="118.5" width="4" height="28" fill="#008000" stroke="#000" stroke-width="1"/><rect x="163" y="117" width="1" height="13" fill="#000"/><rect x="161.5" y="120.5" width="4" height="8" fill="#ff0000" stroke="#000" stroke-width="1"/><path d="M11.599999999999994 125 L17.599999999999994 134.5 L11.599999999999994 131 L5.599999999999994 134.5z" fill="#b4b4bc"/><path d="M11.599999999999994 125 L11.599999999999994 131 L5.599999999999994 134.5z" fill="#9a9aa2"/><path d="M67.69999999999999 101 L73.69999999999999 110.5 L67.69999999999999 107 L61.69999999999999 110.5z" fill="#b4b4bc"/><path d="M67.69999999999999 101 L67.69999999999999 107 L61.69999999999999 110.5z" fill="#9a9aa2"/><path d="M91.80000000000001 95 L97.80000000000001 104.5 L91.80000000000001 101 L85.80000000000001 104.5z" fill="#b4b4bc"/><path d="M91.80000000000001 95 L91.80000000000001 101 L85.80000000000001 104.5z" fill="#9a9aa2"/><path d="M140 93 L146 102.5 L140 99 L134 102.5z" fill="#b4b4bc"/><path d="M140 93 L140 99 L134 102.5z" fill="#9a9aa2"/><path d="M35.69999999999999 209 L41.69999999999999 199.5 L35.69999999999999 203 L29.69999999999999 199.5z" fill="#b4b4bc"/><path d="M35.69999999999999 209 L35.69999999999999 203 L29.69999999999999 199.5z" fill="#9a9aa2"/><path d="M91.80000000000001 171 L97.80000000000001 161.5 L91.80000000000001 165 L85.80000000000001 161.5z" fill="#b4b4bc"/><path d="M91.80000000000001 171 L91.80000000000001 165 L85.80000000000001 161.5z" fill="#9a9aa2"/><path d="M123.60000000000002 182 L129.60000000000002 172.5 L123.60000000000002 176 L117.60000000000002 172.5z" fill="#b4b4bc"/><path d="M123.60000000000002 182 L123.60000000000002 176 L117.60000000000002 172.5z" fill="#9a9aa2"/><circle cx="91.5" cy="103.5" r="4.2" fill="#ff7050"/><circle cx="99.5" cy="103.5" r="4.2" fill="#ff7050"/><circle cx="107.5" cy="103.5" r="4.2" fill="#ff7050"/><path d="M112 97 l8 10 M120 97 l-8 10" stroke="#ff0000" stroke-width="3"/><circle cx="131.5" cy="118" r="4.5" fill="#ff7050"/><circle cx="139.5" cy="120.5" r="5.5" fill="none" stroke="#8b1010" stroke-width="2.2"/><path d="M139.5 114 v7 M136.5 118 l3 4 l3 -4" stroke="#ff5020" stroke-width="1.8" fill="none"/><path d="M141 127 L146 147" stroke="#ff3030" stroke-width="1.2" stroke-dasharray="2 2"/><circle cx="139.5" cy="148.5" r="2.5" fill="#a52a2a"/><text x="131.5" y="165.5" font-size="16.5" font-weight="bold" font-family="Liberation Sans" fill="#a52a2a" stroke="#a52a2a" stroke-width="0.9" textLength="14" lengthAdjust="spacingAndGlyphs">TP</text><path d="M147.5 149 l-4 4 h2.5 v2 h3 v-2 h2.5z" fill="#1a70d0" stroke="#fff" stroke-width="0.8"/><rect x="3.5" y="2.5" width="313" height="311" fill="none" stroke="#000"/><rect x="3.5" y="315.5" width="313" height="109" fill="none" stroke="#000"/><path d="M317 18.5 h4" stroke="#000"/><text x="322" y="21.3" font-size="9" font-family="Liberation Sans" fill="#000">4583.50</text><path d="M317 51.5 h4" stroke="#000"/><text x="322" y="54.3" font-size="9" font-family="Liberation Sans" fill="#000">4579.50</text><path d="M317 83.5 h4" stroke="#000"/><text x="322" y="86.8" font-size="9" font-family="Liberation Sans" fill="#000">4575.50</text><path d="M317 116.5 h4" stroke="#000"/><text x="322" y="119.3" font-size="9" font-family="Liberation Sans" fill="#000">4571.50</text><path d="M317 149.5 h4" stroke="#000"/><text x="322" y="151.8" font-size="9" font-family="Liberation Sans" fill="#000">4567.50</text><path d="M317 181.5 h4" stroke="#000"/><text x="322" y="184.3" font-size="9" font-family="Liberation Sans" fill="#000">4563.50</text><path d="M317 213.5 h4" stroke="#000"/><text x="322" y="216.8" font-size="9" font-family="Liberation Sans" fill="#000">4559.50</text><path d="M317 246.5 h4" stroke="#000"/><text x="322" y="249.3" font-size="9" font-family="Liberation Sans" fill="#000">4555.50</text><path d="M317 279.5 h4" stroke="#000"/><text x="322" y="281.8" font-size="9" font-family="Liberation Sans" fill="#000">4551.50</text><path d="M317 316.5 h4" stroke="#000"/><text x="322" y="323.7" font-size="9" font-family="Liberation Sans" fill="#000">4083.1</text><path d="M317 347.5 h4" stroke="#000"/><text x="322" y="350.1" font-size="9" font-family="Liberation Sans" fill="#000">0.0</text><path d="M317 424.5 h4" stroke="#000"/><text x="322" y="421.90000000000003" font-size="9" font-family="Liberation Sans" fill="#000">-9700.1</text><rect x="319" y="123" width="38" height="11" fill="#2f4f4f"/><text x="322" y="132" font-size="9" font-family="Liberation Sans" fill="#fff">4570.00</text><path d="M4.0 425 v5" stroke="#000"/><text x="3.5" y="437.00000000000006" font-size="9" font-family="Liberation Sans" fill="#000">19 Jan 2022</text><path d="M68.0 425 v5" stroke="#000"/><text x="67.5" y="437.00000000000006" font-size="9" font-family="Liberation Sans" fill="#000">19 Jan 15:52</text><path d="M132.0 425 v5" stroke="#000"/><text x="131.5" y="437.00000000000006" font-size="9" font-family="Liberation Sans" fill="#000">19 Jan 16:00</text><path d="M158.5 3 h10 l-5 5z" fill="#2f4f4f"/><g transform="translate(8,8)"><rect x="0.5" y="0.5" width="15" height="10" fill="#fff" stroke="#e04030"/><rect x="8" y="0.5" width="7.5" height="10" fill="#fff" stroke="#2070c0"/><path d="M2 3h5M2 5.5h5M2 8h5" stroke="#e04030"/><path d="M9.5 3h5M9.5 5.5h5M9.5 8h5" stroke="#2070c0"/></g><g transform="translate(28,7)"><path d="M0.5 11.5v-10h4v5h3v5z" fill="#fde0dc" stroke="#e04030"/><path d="M8.5 11.5v-6h3v-4h4v10z" fill="#cfe8fb" stroke="#2070c0"/><rect x="5" y="0.5" width="4" height="2" fill="#fff" stroke="#aaa" stroke-width="0.8"/></g><text x="49.5" y="16.8" font-size="9.5" font-family="Liberation Sans" fill="#000">MESH22, M1:  Micro E-mini S&amp;P 500 ($5): March 2022 FF</text><g transform="translate(298,8)"><path d="M0 4l7-3.5l7 3.5l-7 3.5z" fill="#9fd3f7" stroke="#2a88d0" stroke-width="1"/><path d="M3 5.5v3.5q4 2.5 8 0v-3.5" fill="#cfeafb" stroke="#2a88d0" stroke-width="1"/><path d="M1.5 4.5v6" stroke="#2a88d0"/><circle cx="1.5" cy="11" r="1.2" fill="#2a88d0"/></g><rect x="181" y="26" width="125" height="19" fill="#32cd32"/><path d="M181.5 45 V26.5 H306" fill="none" stroke="#5cf05c" stroke-width="1.5"/><path d="M182 44 H305 V27" fill="none" stroke="#00a000" stroke-width="2"/><text x="243.5" y="39.5" font-size="11.5" font-family="Liberation Mono" text-anchor="middle" fill="#6b607a">Выкл.Торговлю</text><rect x="181" y="49" width="60" height="19" fill="#32cd32"/><path d="M181.5 68 V49.5 H241" fill="none" stroke="#5cf05c" stroke-width="1.5"/><path d="M182 67 H240 V50" fill="none" stroke="#00a000" stroke-width="2"/><text x="211.0" y="62.5" font-size="10" font-family="Liberation Mono" text-anchor="middle" fill="#6b607a">Выкл.BUY</text><rect x="246" y="49" width="60" height="19" fill="#32cd32"/><path d="M246.5 68 V49.5 H306" fill="none" stroke="#5cf05c" stroke-width="1.5"/><path d="M247 67 H305 V50" fill="none" stroke="#00a000" stroke-width="2"/><text x="276.0" y="62.5" font-size="10" font-family="Liberation Mono" text-anchor="middle" fill="#6b607a">Выкл.SELL</text></svg><div style="position:absolute;left:200.7px;top:407.5px;font-size:9.3px;line-height:9.3px;color:#000;white-space:nowrap;font-family:"Liberation Sans", sans-serif;">FundsEfficiency 1914.0 0.0 -336.0</div><div style="position:absolute;left:571px;top:60px;width:371px;height:26px;background:#f0f0f0;"></div><div style="position:absolute;left:571px;top:60px;width:371px;height:1px;background:#ffffff;"></div><svg style="position:absolute;left:576px;top:64px" width="14" height="16"><rect x="0.5" y="5.5" width="4" height="6" fill="#dff7df" stroke="#10b010" stroke-width="1.2"/><path d="M2.5 3v2.5M2.5 11.5v3" stroke="#10b010" stroke-width="1.2"/><rect x="6.5" y="3.5" width="4" height="9" fill="#dff7df" stroke="#10b010" stroke-width="1.2"/><path d="M8.5 1v2.5M8.5 12.5v3.5" stroke="#10b010" stroke-width="1.2"/></svg><div style="position:absolute;left:591px;top:66.6px;font-size:12.2px;line-height:12.2px;color:#6d6d6d;white-space:nowrap;font-family:"Liberation Sans", sans-serif;">M2KH22,M1</div><svg style="position:absolute;left:851px;top:66px" width="80" height="16"><path d="M0 12.5h9" stroke="#b0b0b0" stroke-width="1"/><rect x="32.5" y="4.5" width="8" height="8" fill="none" stroke="#b0b0b0"/><path d="M64 4l9 9M73 4l-9 9" stroke="#b0b0b0" stroke-width="1"/></svg><div style="position:absolute;left:571px;top:85px;width:365px;height:2px;background:#828282;"></div><div style="position:absolute;left:571px;top:85px;width:2px;height:446px;background:#828282;"></div><div style="position:absolute;left:573px;top:87px;width:363px;height:444px;background:#e6e6fa;"></div><div style="position:absolute;left:571px;top:531px;width:366px;height:1px;background:#ffffff;"></div><div style="position:absolute;left:936px;top:86px;width:1px;height:446px;background:#ffffff;"></div><svg style="position:absolute;left:572px;top:87px;shape-rendering:auto;" width="364" height="444" viewBox="0 0 364 444"><path d="M35.5 3 V311" stroke="#2f4f4f" stroke-dasharray="3 3"/><path d="M35.5 314 V422" stroke="#2f4f4f" stroke-dasharray="3 3"/><path d="M67.5 3 V311" stroke="#2f4f4f" stroke-dasharray="3 3"/><path d="M67.5 314 V422" stroke="#2f4f4f" stroke-dasharray="3 3"/><path d="M99.5 3 V311" stroke="#2f4f4f" stroke-dasharray="3 3"/><path d="M99.5 314 V422" stroke="#2f4f4f" stroke-dasharray="3 3"/><path d="M131.5 3 V311" stroke="#2f4f4f" stroke-dasharray="3 3"/><path d="M131.5 314 V422" stroke="#2f4f4f" stroke-dasharray="3 3"/><path d="M163.5 3 V311" stroke="#2f4f4f" stroke-dasharray="3 3"/><path d="M163.5 314 V422" stroke="#2f4f4f" stroke-dasharray="3 3"/><path d="M195.5 3 V311" stroke="#2f4f4f" stroke-dasharray="3 3"/><path d="M195.5 314 V422" stroke="#2f4f4f" stroke-dasharray="3 3"/><path d="M227.5 3 V311" stroke="#2f4f4f" stroke-dasharray="3 3"/><path d="M227.5 314 V422" stroke="#2f4f4f" stroke-dasharray="3 3"/><path d="M259.5 3 V311" stroke="#2f4f4f" stroke-dasharray="3 3"/><path d="M259.5 314 V422" stroke="#2f4f4f" stroke-dasharray="3 3"/><path d="M291.5 3 V311" stroke="#2f4f4f" stroke-dasharray="3 3"/><path d="M291.5 314 V422" stroke="#2f4f4f" stroke-dasharray="3 3"/><path d="M4 20.5 H315" stroke="#2f4f4f" stroke-dasharray="3 3"/><path d="M4 52.5 H315" stroke="#2f4f4f" stroke-dasharray="3 3"/><path d="M4 84.5 H315" stroke="#2f4f4f" stroke-dasharray="3 3"/><path d="M4 117.5 H315" stroke="#2f4f4f" stroke-dasharray="3 3"/><path d="M4 149.5 H315" stroke="#2f4f4f" stroke-dasharray="3 3"/><path d="M4 181.5 H315" stroke="#2f4f4f" stroke-dasharray="3 3"/><path d="M4 213.5 H315" stroke="#2f4f4f" stroke-dasharray="3 3"/><path d="M4 246.5 H315" stroke="#2f4f4f" stroke-dasharray="3 3"/><path d="M4 278.5 H315" stroke="#2f4f4f" stroke-dasharray="3 3"/><path d="M4 371.5 H315" stroke="#2f4f4f" stroke-dasharray="3 3"/><rect x="11" y="293" width="1" height="18" fill="#008000"/><rect x="19" y="294.9" width="1" height="16.100000000000023" fill="#008000"/><rect x="27" y="296.6" width="1" height="14.399999999999977" fill="#008000"/><rect x="35" y="297.4" width="1" height="13.600000000000023" fill="#008000"/><rect x="43" y="300.5" width="1" height="10.5" fill="#008000"/><rect x="51" y="289.6" width="1" height="21.399999999999977" fill="#008000"/><rect x="59" y="285.7" width="1" height="25.30000000000001" fill="#008000"/><rect x="67" y="283.7" width="1" height="27.30000000000001" fill="#008000"/><rect x="75" y="286.6" width="1" height="24.399999999999977" fill="#008000"/><rect x="83" y="289.6" width="1" height="21.399999999999977" fill="#008000"/><rect x="91" y="285.7" width="1" height="25.30000000000001" fill="#008000"/><rect x="99" y="283.7" width="1" height="27.30000000000001" fill="#008000"/><rect x="107" y="294.9" width="1" height="16.100000000000023" fill="#008000"/><rect x="115" y="291.8" width="1" height="19.19999999999999" fill="#008000"/><rect x="123" y="293" width="1" height="18" fill="#008000"/><rect x="131" y="279.1" width="1" height="31.899999999999977" fill="#008000"/><rect x="139" y="284.7" width="1" height="26.30000000000001" fill="#008000"/><rect x="147" y="284.7" width="1" height="26.30000000000001" fill="#008000"/><rect x="155" y="288.8" width="1" height="22.19999999999999" fill="#008000"/><rect x="163" y="308.3" width="1" height="2.6999999999999886" fill="#008000"/><rect x="2.5" y="372" width="4" height="41.30000000000001" fill="#800080"/><rect x="9.5" y="372" width="4" height="37.69999999999999" fill="#800080"/><rect x="17.5" y="372" width="4" height="37.69999999999999" fill="#800080"/><rect x="25.5" y="372" width="4" height="22.600000000000023" fill="#800080"/><rect x="33.5" y="372" width="4" height="13.300000000000011" fill="#800080"/><rect x="41.5" y="372" width="4" height="10.399999999999977" fill="#800080"/><rect x="49.5" y="365" width="4" height="7" fill="#008080"/><rect x="57.5" y="348" width="4" height="24" fill="#008080"/><rect x="65.5" y="363.9" width="4" height="8.100000000000023" fill="#008080"/><rect x="73.5" y="352.9" width="4" height="19.100000000000023" fill="#008080"/><rect x="81.5" y="357" width="4" height="15" fill="#008080"/><rect x="89.5" y="338" width="4" height="34" fill="#008080"/><rect x="97.5" y="331" width="4" height="41" fill="#008080"/><rect x="105.5" y="330.2" width="4" height="41.80000000000001" fill="#008080"/><rect x="113.5" y="353.9" width="4" height="18.100000000000023" fill="#008080"/><rect x="121.5" y="349" width="4" height="23" fill="#008080"/><rect x="129.5" y="337" width="4" height="35" fill="#008080"/><rect x="137.5" y="322.2" width="4" height="49.80000000000001" fill="#008080"/><rect x="145.5" y="331" width="4" height="41" fill="#008080"/><rect x="153.5" y="330.2" width="4" height="41.80000000000001" fill="#008080"/><rect x="161.5" y="330.2" width="4" height="41.80000000000001" fill="#008080"/><path d="M4 111.5 H315" stroke="#2f4f4f" stroke-width="1"/><path d="M3.0 109.0 C5.7 109.8 13.7 111.5 19.0 113.7 C24.3 115.9 29.5 119.6 35.0 122.0 C40.5 124.4 46.8 126.5 52.0 127.9 C57.2 129.3 62.1 129.6 66.0 130.2 C69.9 130.8 73.9 131.2 75.5 131.4" fill="none" stroke="#ff0000" stroke-width="3.2" stroke-linecap="round"/><path d="M75.5 131.4 C77.9 131.6 83.7 131.8 89.6 132.6 C95.5 133.4 103.6 135.4 111.0 136.0 C118.4 136.6 125.2 136.2 134.0 136.0 C142.8 135.8 159.0 135.2 164.0 135.0" fill="none" stroke="#a8a8a8" stroke-width="3" stroke-linecap="round"/><rect x="11" y="148" width="1" height="19" fill="#000"/><rect x="9.5" y="157.5" width="4" height="6" fill="#ff0000" stroke="#000" stroke-width="1"/><rect x="19" y="164" width="1" height="17" fill="#000"/><rect x="17.5" y="164.5" width="4" height="15" fill="#ff0000" stroke="#000" stroke-width="1"/><rect x="27" y="168" width="1" height="14" fill="#000"/><rect x="25.5" y="177.5" width="4" height="2" fill="#008000" stroke="#000" stroke-width="1"/><rect x="35" y="163" width="1" height="21" fill="#000"/><rect x="33.5" y="168.5" width="4" height="13" fill="#008000" stroke="#000" stroke-width="1"/><rect x="43" y="166" width="1" height="9" fill="#000"/><rect x="41.5" y="168.5" width="4" height="5" fill="#ff0000" stroke="#000" stroke-width="1"/><rect x="51" y="158" width="1" height="18" fill="#000"/><rect x="49.5" y="160.5" width="4" height="13" fill="#008000" stroke="#000" stroke-width="1"/><rect x="59" y="138" width="1" height="24" fill="#000"/><rect x="57.5" y="139.5" width="4" height="19" fill="#008000" stroke="#000" stroke-width="1"/><rect x="67" y="133" width="1" height="15" fill="#000"/><rect x="65.5" y="135.5" width="4" height="7" fill="#008000" stroke="#000" stroke-width="1"/><rect x="75" y="124" width="1" height="16" fill="#000"/><rect x="73.5" y="131.5" width="4" height="6" fill="#008000" stroke="#000" stroke-width="1"/><rect x="83" y="133" width="1" height="16" fill="#000"/><rect x="81.5" y="135.5" width="4" height="10" fill="#ff0000" stroke="#000" stroke-width="1"/><rect x="91" y="120" width="1" height="30" fill="#000"/><rect x="89.5" y="125.5" width="4" height="20" fill="#008000" stroke="#000" stroke-width="1"/><rect x="99" y="111" width="1" height="16" fill="#000"/><rect x="97.5" y="117.5" width="4" height="10" fill="#008000" stroke="#000" stroke-width="1"/><rect x="107" y="113" width="1" height="10" fill="#000"/><rect x="105.5" y="117.5" width="4" height="3" fill="#ff0000" stroke="#000" stroke-width="1"/><rect x="115" y="118" width="1" height="17" fill="#000"/><rect x="113.5" y="121.5" width="4" height="11" fill="#ff0000" stroke="#000" stroke-width="1"/><rect x="123" y="111" width="1" height="29" fill="#000"/><rect x="121.5" y="120.5" width="4" height="14" fill="#008000" stroke="#000" stroke-width="1"/><rect x="131" y="104" width="1" height="25" fill="#000"/><rect x="129.5" y="115.5" width="4" height="6" fill="#008000" stroke="#000" stroke-width="1"/><rect x="139" y="96" width="1" height="12" fill="#000"/><rect x="137.5" y="101.5" width="4" height="7" fill="#008000" stroke="#000" stroke-width="1"/><rect x="147" y="100" width="1" height="20" fill="#000"/><rect x="145.5" y="103.5" width="4" height="10" fill="#ff0000" stroke="#000" stroke-width="1"/><rect x="155" y="102" width="1" height="23" fill="#000"/><rect x="153.5" y="104.5" width="4" height="10" fill="#008000" stroke="#000" stroke-width="1"/><rect x="163" y="105" width="1" height="8" fill="#000"/><rect x="161.5" y="107.5" width="4" height="4" fill="#ff0000" stroke="#000" stroke-width="1"/><path d="M11.799999999999955 135 L17.799999999999955 144.5 L11.799999999999955 141 L5.7999999999999545 144.5z" fill="#b4b4bc"/><path d="M11.799999999999955 135 L11.799999999999955 141 L5.7999999999999545 144.5z" fill="#9a9aa2"/><path d="M140.29999999999995 79 L146.29999999999995 88.5 L140.29999999999995 85 L134.29999999999995 88.5z" fill="#b4b4bc"/><path d="M140.29999999999995 79 L140.29999999999995 85 L134.29999999999995 88.5z" fill="#9a9aa2"/><path d="M35.39999999999998 196 L41.39999999999998 186.5 L35.39999999999998 190 L29.399999999999977 186.5z" fill="#b4b4bc"/><path d="M35.39999999999998 196 L35.39999999999998 190 L29.399999999999977 186.5z" fill="#9a9aa2"/><path d="M92 162 L98 152.5 L92 156 L86 152.5z" fill="#b4b4bc"/><path d="M92 162 L92 156 L86 152.5z" fill="#9a9aa2"/><path d="M123.79999999999995 151 L129.79999999999995 141.5 L123.79999999999995 145 L117.79999999999995 141.5z" fill="#b4b4bc"/><path d="M123.79999999999995 151 L123.79999999999995 145 L117.79999999999995 141.5z" fill="#9a9aa2"/><circle cx="51" cy="155" r="4.5" fill="#ff7050"/><circle cx="59" cy="156.5" r="5.5" fill="none" stroke="#8b1010" stroke-width="2.2"/><path d="M136 87 h8 l-4 5z" fill="#ff5020"/><path d="M131.60000000000002 107 l-4 4 h2.5 v2 h3 v-2 h2.5z" fill="#1a70d0"/><circle cx="59" cy="176.5" r="2.2" fill="#a52a2a"/><circle cx="67" cy="176.5" r="2.2" fill="#a52a2a"/><circle cx="75" cy="176.5" r="2.2" fill="#a52a2a"/><circle cx="83" cy="176.5" r="2.2" fill="#a52a2a"/><circle cx="91" cy="176.5" r="2.2" fill="#a52a2a"/><circle cx="99" cy="176.5" r="2.2" fill="#a52a2a"/><circle cx="107" cy="176.5" r="2.2" fill="#a52a2a"/><circle cx="115" cy="176.5" r="2.2" fill="#a52a2a"/><circle cx="123" cy="176.5" r="2.2" fill="#a52a2a"/><circle cx="131" cy="176.5" r="2.2" fill="#a52a2a"/><circle cx="139" cy="176.5" r="2.2" fill="#a52a2a"/><circle cx="147" cy="176.5" r="2.2" fill="#a52a2a"/><circle cx="155" cy="176.5" r="2.2" fill="#a52a2a"/><text x="50.5" y="194" font-size="17.5" font-weight="bold" font-family="Liberation Sans" fill="#a52a2a" stroke="#a52a2a" stroke-width="0.9" textLength="17" lengthAdjust="spacingAndGlyphs">TP</text><circle cx="11.600000000000023" cy="5" r="2.2" fill="#a52a2a"/><circle cx="19.5" cy="5" r="2.2" fill="#a52a2a"/><circle cx="27.399999999999977" cy="5" r="2.2" fill="#a52a2a"/><circle cx="35.30000000000007" cy="5" r="2.2" fill="#a52a2a"/><circle cx="43.200000000000045" cy="5" r="2.2" fill="#a52a2a"/><circle cx="51.10000000000002" cy="5" r="2.2" fill="#a52a2a"/><rect x="3.5" y="2.5" width="312" height="309" fill="none" stroke="#000"/><rect x="3.5" y="313.5" width="312" height="109" fill="none" stroke="#000"/><path d="M316 21.5 h4" stroke="#000"/><text x="321" y="23.8" font-size="9" font-family="Liberation Sans" fill="#000">2096.9</text><path d="M316 53.5 h4" stroke="#000"/><text x="321" y="55.8" font-size="9" font-family="Liberation Sans" fill="#000">2091.5</text><path d="M316 85.5 h4" stroke="#000"/><text x="321" y="87.8" font-size="9" font-family="Liberation Sans" fill="#000">2086.1</text><path d="M316 117.5 h4" stroke="#000"/><text x="321" y="120.3" font-size="9" font-family="Liberation Sans" fill="#000">2080.7</text><path d="M316 149.5 h4" stroke="#000"/><text x="321" y="152.3" font-size="9" font-family="Liberation Sans" fill="#000">2075.3</text><path d="M316 181.5 h4" stroke="#000"/><text x="321" y="184.8" font-size="9" font-family="Liberation Sans" fill="#000">2069.9</text><path d="M316 214.5 h4" stroke="#000"/><text x="321" y="217.3" font-size="9" font-family="Liberation Sans" fill="#000">2064.5</text><path d="M316 247.5 h4" stroke="#000"/><text x="321" y="249.8" font-size="9" font-family="Liberation Sans" fill="#000">2059.1</text><path d="M316 279.5 h4" stroke="#000"/><text x="321" y="281.8" font-size="9" font-family="Liberation Sans" fill="#000">2053.7</text><path d="M316 314.5 h4" stroke="#000"/><text x="321" y="321.8" font-size="9" font-family="Liberation Sans" fill="#000">1857.4</text><path d="M316 371.5 h4" stroke="#000"/><text x="321" y="374.3" font-size="9" font-family="Liberation Sans" fill="#000">0.0</text><path d="M316 422.5 h4" stroke="#000"/><text x="321" y="419.8" font-size="9" font-family="Liberation Sans" fill="#000">-1615.4</text><rect x="318" y="106" width="34" height="11" fill="#2f4f4f"/><text x="321" y="115" font-size="9" font-family="Liberation Sans" fill="#fff">2081.7</text><path d="M3.5 423 v5" stroke="#000"/><text x="3" y="434.7" font-size="9" font-family="Liberation Sans" fill="#000">19 Jan 2022</text><path d="M67.5 423 v5" stroke="#000"/><text x="67" y="434.7" font-size="9" font-family="Liberation Sans" fill="#000">19 Jan 15:52</text><path d="M131.5 423 v5" stroke="#000"/><text x="131" y="434.7" font-size="9" font-family="Liberation Sans" fill="#000">19 Jan 16:00</text><path d="M158.5 3 h10 l-5 5z" fill="#2f4f4f"/><g transform="translate(8,8)"><rect x="0.5" y="0.5" width="15" height="10" fill="#fff" stroke="#e04030"/><rect x="8" y="0.5" width="7.5" height="10" fill="#fff" stroke="#2070c0"/><path d="M2 3h5M2 5.5h5M2 8h5" stroke="#e04030"/><path d="M9.5 3h5M9.5 5.5h5M9.5 8h5" stroke="#2070c0"/></g><g transform="translate(28,7)"><path d="M0.5 11.5v-10h4v5h3v5z" fill="#fde0dc" stroke="#e04030"/><path d="M8.5 11.5v-6h3v-4h4v10z" fill="#cfe8fb" stroke="#2070c0"/><rect x="5" y="0.5" width="4" height="2" fill="#fff" stroke="#aaa" stroke-width="0.8"/></g><text x="49.299999999999955" y="16.8" font-size="9.5" font-family="Liberation Sans" fill="#000">M2KH22, M1:  Micro E-mini Russell 2000 ($5): March 2022</text><g transform="translate(297,8)"><path d="M0 4l7-3.5l7 3.5l-7 3.5z" fill="#9fd3f7" stroke="#2a88d0" stroke-width="1"/><path d="M3 5.5v3.5q4 2.5 8 0v-3.5" fill="#cfeafb" stroke="#2a88d0" stroke-width="1"/><path d="M1.5 4.5v6" stroke="#2a88d0"/><circle cx="1.5" cy="11" r="1.2" fill="#2a88d0"/></g><rect x="180" y="26" width="125" height="19" fill="#32cd32"/><path d="M180.5 45 V26.5 H305" fill="none" stroke="#5cf05c" stroke-width="1.5"/><path d="M181 44 H304 V27" fill="none" stroke="#00a000" stroke-width="2"/><text x="242.5" y="39.5" font-size="11.5" font-family="Liberation Mono" text-anchor="middle" fill="#6b607a">Выкл.Торговлю</text><rect x="180" y="49" width="60" height="19" fill="#32cd32"/><path d="M180.5 68 V49.5 H240" fill="none" stroke="#5cf05c" stroke-width="1.5"/><path d="M181 67 H239 V50" fill="none" stroke="#00a000" stroke-width="2"/><text x="210.0" y="62.5" font-size="10" font-family="Liberation Mono" text-anchor="middle" fill="#6b607a">Выкл.BUY</text><rect x="245" y="49" width="60" height="19" fill="#32cd32"/><path d="M245.5 68 V49.5 H305" fill="none" stroke="#5cf05c" stroke-width="1.5"/><path d="M246 67 H304 V50" fill="none" stroke="#00a000" stroke-width="2"/><text x="275.0" y="62.5" font-size="10" font-family="Liberation Mono" text-anchor="middle" fill="#6b607a">Выкл.SELL</text></svg><div style="position:absolute;left:943px;top:60px;width:338px;height:26px;background:#f0f0f0;"></div><div style="position:absolute;left:943px;top:60px;width:338px;height:1px;background:#ffffff;"></div><svg style="position:absolute;left:946px;top:64px" width="14" height="16"><rect x="0.5" y="5.5" width="4" height="6" fill="#dff7df" stroke="#10b010" stroke-width="1.2"/><path d="M2.5 3v2.5M2.5 11.5v3" stroke="#10b010" stroke-width="1.2"/><rect x="6.5" y="3.5" width="4" height="9" fill="#dff7df" stroke="#10b010" stroke-width="1.2"/><path d="M8.5 1v2.5M8.5 12.5v3.5" stroke="#10b010" stroke-width="1.2"/></svg><div style="position:absolute;left:961px;top:66.6px;font-size:12.2px;line-height:12.2px;color:#6d6d6d;white-space:nowrap;font-family:"Liberation Sans", sans-serif;">MNQH22,M1</div><svg style="position:absolute;left:1229px;top:66px" width="80" height="16"><path d="M0 12.5h9" stroke="#b0b0b0" stroke-width="1"/><rect x="32.5" y="4.5" width="8" height="8" fill="none" stroke="#b0b0b0"/><path d="M64 4l9 9M73 4l-9 9" stroke="#b0b0b0" stroke-width="1"/></svg><div style="position:absolute;left:943px;top:85px;width:339px;height:2px;background:#828282;"></div><div style="position:absolute;left:943px;top:87px;width:339px;height:445px;background:#e6e6fa;"></div><div style="position:absolute;left:943px;top:532px;width:340px;height:1px;background:#ffffff;"></div><div style="position:absolute;left:1282px;top:86px;width:1px;height:447px;background:#ffffff;"></div><svg style="position:absolute;left:944px;top:87px;shape-rendering:auto;" width="338" height="445" viewBox="0 0 338 445"><path d="M33.5 3 V311" stroke="#2f4f4f" stroke-dasharray="3 3"/><path d="M33.5 314 V424" stroke="#2f4f4f" stroke-dasharray="3 3"/><path d="M65.5 3 V311" stroke="#2f4f4f" stroke-dasharray="3 3"/><path d="M65.5 314 V424" stroke="#2f4f4f" stroke-dasharray="3 3"/><path d="M97.5 3 V311" stroke="#2f4f4f" stroke-dasharray="3 3"/><path d="M97.5 314 V424" stroke="#2f4f4f" stroke-dasharray="3 3"/><path d="M129.5 3 V311" stroke="#2f4f4f" stroke-dasharray="3 3"/><path d="M129.5 314 V424" stroke="#2f4f4f" stroke-dasharray="3 3"/><path d="M161.5 3 V311" stroke="#2f4f4f" stroke-dasharray="3 3"/><path d="M161.5 314 V424" stroke="#2f4f4f" stroke-dasharray="3 3"/><path d="M193.5 3 V311" stroke="#2f4f4f" stroke-dasharray="3 3"/><path d="M193.5 314 V424" stroke="#2f4f4f" stroke-dasharray="3 3"/><path d="M225.5 3 V311" stroke="#2f4f4f" stroke-dasharray="3 3"/><path d="M225.5 314 V424" stroke="#2f4f4f" stroke-dasharray="3 3"/><path d="M257.5 3 V311" stroke="#2f4f4f" stroke-dasharray="3 3"/><path d="M257.5 314 V424" stroke="#2f4f4f" stroke-dasharray="3 3"/><path d="M289.5 3 V311" stroke="#2f4f4f" stroke-dasharray="3 3"/><path d="M289.5 314 V424" stroke="#2f4f4f" stroke-dasharray="3 3"/><path d="M2 21.5 H311" stroke="#2f4f4f" stroke-dasharray="3 3"/><path d="M2 54.5 H311" stroke="#2f4f4f" stroke-dasharray="3 3"/><path d="M2 86.5 H311" stroke="#2f4f4f" stroke-dasharray="3 3"/><path d="M2 118.5 H311" stroke="#2f4f4f" stroke-dasharray="3 3"/><path d="M2 150.5 H311" stroke="#2f4f4f" stroke-dasharray="3 3"/><path d="M2 182.5 H311" stroke="#2f4f4f" stroke-dasharray="3 3"/><path d="M2 214.5 H311" stroke="#2f4f4f" stroke-dasharray="3 3"/><path d="M2 246.5 H311" stroke="#2f4f4f" stroke-dasharray="3 3"/><path d="M2 278.5 H311" stroke="#2f4f4f" stroke-dasharray="3 3"/><path d="M2 346.5 H311" stroke="#2f4f4f" stroke-dasharray="3 3"/><rect x="9" y="287.1" width="1" height="23.899999999999977" fill="#008000"/><rect x="17" y="293" width="1" height="18" fill="#008000"/><rect x="25" y="289.1" width="1" height="21.899999999999977" fill="#008000"/><rect x="33" y="294" width="1" height="17" fill="#008000"/><rect x="41" y="293" width="1" height="18" fill="#008000"/><rect x="49" y="293" width="1" height="18" fill="#008000"/><rect x="57" y="290" width="1" height="21" fill="#008000"/><rect x="65" y="294.9" width="1" height="16.100000000000023" fill="#008000"/><rect x="73" y="294.9" width="1" height="16.100000000000023" fill="#008000"/><rect x="81" y="290" width="1" height="21" fill="#008000"/><rect x="89" y="294.9" width="1" height="16.100000000000023" fill="#008000"/><rect x="97" y="296.1" width="1" height="14.899999999999977" fill="#008000"/><rect x="105" y="292" width="1" height="19" fill="#008000"/><rect x="113" y="290" width="1" height="21" fill="#008000"/><rect x="121" y="290" width="1" height="21" fill="#008000"/><rect x="129" y="279.8" width="1" height="31.19999999999999" fill="#008000"/><rect x="137" y="293" width="1" height="18" fill="#008000"/><rect x="145" y="292" width="1" height="19" fill="#008000"/><rect x="153" y="307.1" width="1" height="3.8999999999999773" fill="#008000"/><rect x="0.5" y="347" width="4" height="67.80000000000001" fill="#800080"/><rect x="7.5" y="347" width="4" height="65.89999999999998" fill="#800080"/><rect x="15.5" y="347" width="4" height="54.89999999999998" fill="#800080"/><rect x="23.5" y="347" width="4" height="55.60000000000002" fill="#800080"/><rect x="31.5" y="347" width="4" height="62.69999999999999" fill="#800080"/><rect x="39.5" y="347" width="4" height="42.69999999999999" fill="#800080"/><rect x="47.5" y="347" width="4" height="28.80000000000001" fill="#800080"/><rect x="55.5" y="347" width="4" height="36.60000000000002" fill="#800080"/><rect x="63.5" y="347" width="4" height="26.899999999999977" fill="#800080"/><rect x="71.5" y="347" width="4" height="19.600000000000023" fill="#800080"/><rect x="79.5" y="347" width="4" height="5.699999999999989" fill="#800080"/><rect x="87.5" y="347" width="4" height="5" fill="#800080"/><rect x="103.5" y="347" width="4" height="18.80000000000001" fill="#800080"/><rect x="111.5" y="347" width="4" height="7.899999999999977" fill="#800080"/><rect x="127.5" y="326.6" width="4" height="20.399999999999977" fill="#008080"/><rect x="135.5" y="331" width="4" height="16" fill="#008080"/><rect x="143.5" y="325.6" width="4" height="21.399999999999977" fill="#008080"/><rect x="151.5" y="323" width="4" height="24" fill="#008080"/><path d="M2 143.5 H311" stroke="#2f4f4f" stroke-width="1"/><path d="M2.0 83.0 C4.9 84.4 14.3 88.7 19.6 91.3 C24.9 93.9 28.6 96.0 33.7 98.4 C38.8 100.8 44.7 103.3 50.2 105.5 C55.7 107.7 60.9 109.2 66.8 111.3 C72.7 113.5 79.3 116.1 85.6 118.4 C91.9 120.7 98.6 123.0 104.5 125.0 C110.4 127.0 115.5 128.9 121.0 130.2 C126.5 131.5 132.0 131.5 137.5 132.6 C143.0 133.7 151.2 135.9 154.0 136.6" fill="none" stroke="#ff0000" stroke-width="3.2" stroke-linecap="round"/><rect x="9" y="153" width="1" height="27" fill="#000"/><rect x="7.5" y="154.5" width="4" height="20" fill="#ff0000" stroke="#000" stroke-width="1"/><rect x="17" y="164" width="1" height="24" fill="#000"/><rect x="15.5" y="174.5" width="4" height="13" fill="#ff0000" stroke="#000" stroke-width="1"/><rect x="25" y="175" width="1" height="20" fill="#000"/><rect x="23.5" y="180.5" width="4" height="7" fill="#008000" stroke="#000" stroke-width="1"/><rect x="33" y="177" width="1" height="22" fill="#000"/><rect x="31.5" y="180.5" width="4" height="9" fill="#ff0000" stroke="#000" stroke-width="1"/><rect x="41" y="168" width="1" height="24" fill="#000"/><rect x="39.5" y="172.5" width="4" height="17" fill="#008000" stroke="#000" stroke-width="1"/><rect x="49" y="161" width="1" height="18" fill="#000"/><rect x="47.5" y="163.5" width="4" height="10" fill="#008000" stroke="#000" stroke-width="1"/><rect x="57" y="152" width="1" height="21" fill="#000"/><rect x="55.5" y="161.5" width="4" height="3" fill="#008000" stroke="#000" stroke-width="1"/><rect x="65" y="147" width="1" height="20" fill="#000"/><rect x="63.5" y="160.5" width="4" height="3" fill="#ff0000" stroke="#000" stroke-width="1"/><rect x="73" y="162" width="1" height="16" fill="#000"/><rect x="71.5" y="163.5" width="4" height="10" fill="#ff0000" stroke="#000" stroke-width="1"/><rect x="81" y="148" width="1" height="31" fill="#000"/><rect x="79.5" y="159.5" width="4" height="14" fill="#008000" stroke="#000" stroke-width="1"/><rect x="89" y="153" width="1" height="15" fill="#000"/><rect x="87.5" y="159.5" width="4" height="4" fill="#ff0000" stroke="#000" stroke-width="1"/><rect x="97" y="159" width="1" height="13" fill="#000"/><rect x="95.5" y="163.5" width="4" height="3" fill="#ff0000" stroke="#000" stroke-width="1"/><rect x="105" y="164" width="1" height="25" fill="#000"/><rect x="103.5" y="166.5" width="4" height="15" fill="#ff0000" stroke="#000" stroke-width="1"/><rect x="113" y="153" width="1" height="35" fill="#000"/><rect x="111.5" y="156.5" width="4" height="26" fill="#008000" stroke="#000" stroke-width="1"/><rect x="121" y="147" width="1" height="15" fill="#000"/><rect x="119.5" y="147.5" width="4" height="8" fill="#008000" stroke="#000" stroke-width="1"/><rect x="129" y="125" width="1" height="25" fill="#000"/><rect x="127.5" y="141.5" width="4" height="6" fill="#008000" stroke="#000" stroke-width="1"/><rect x="137" y="140" width="1" height="17" fill="#000"/><rect x="135.5" y="141.5" width="4" height="13" fill="#ff0000" stroke="#000" stroke-width="1"/><rect x="145" y="137" width="1" height="22" fill="#000"/><rect x="143.5" y="139.5" width="4" height="16" fill="#008000" stroke="#000" stroke-width="1"/><rect x="153" y="139" width="1" height="9" fill="#000"/><rect x="151.5" y="140.5" width="4" height="3" fill="#ff0000" stroke="#000" stroke-width="1"/><path d="M4.2999999999999545 128 L10.299999999999955 137.5 L4.2999999999999545 134 L-1.7000000000000455 137.5z" fill="#b4b4bc"/><path d="M4.2999999999999545 128 L4.2999999999999545 134 L-1.7000000000000455 137.5z" fill="#9a9aa2"/><path d="M82 134 L88 143.5 L82 140 L76 143.5z" fill="#b4b4bc"/><path d="M82 134 L82 140 L76 143.5z" fill="#9a9aa2"/><path d="M129.29999999999995 118 L135.29999999999995 127.5 L129.29999999999995 124 L123.29999999999995 127.5z" fill="#b4b4bc"/><path d="M129.29999999999995 118 L129.29999999999995 124 L123.29999999999995 127.5z" fill="#9a9aa2"/><path d="M33.700000000000045 210 L39.700000000000045 200.5 L33.700000000000045 204 L27.700000000000045 200.5z" fill="#b4b4bc"/><path d="M33.700000000000045 210 L33.700000000000045 204 L27.700000000000045 200.5z" fill="#9a9aa2"/><path d="M82 190 L88 180.5 L82 184 L76 180.5z" fill="#b4b4bc"/><path d="M82 190 L82 184 L76 180.5z" fill="#9a9aa2"/><path d="M105.70000000000005 202 L111.70000000000005 192.5 L105.70000000000005 196 L99.70000000000005 192.5z" fill="#b4b4bc"/><path d="M105.70000000000005 202 L105.70000000000005 196 L99.70000000000005 192.5z" fill="#9a9aa2"/><circle cx="129.70000000000005" cy="128.8" r="4.2" fill="#ff7050"/><circle cx="137.70000000000005" cy="128.8" r="4.2" fill="#ff7050"/><circle cx="145.79999999999995" cy="128.8" r="4.2" fill="#ff7050"/><circle cx="1.7000000000000455" cy="14.5" r="2.3" fill="#b02a2a"/><circle cx="26.899999999999977" cy="14.5" r="2.3" fill="#b02a2a"/><circle cx="48.89999999999998" cy="14.5" r="2.3" fill="#b02a2a"/><circle cx="70.89999999999998" cy="14.5" r="2.3" fill="#b02a2a"/><circle cx="92.90000000000009" cy="14.5" r="2.3" fill="#b02a2a"/><circle cx="114.90000000000009" cy="14.5" r="2.3" fill="#b02a2a"/><circle cx="137" cy="14.5" r="2.3" fill="#b02a2a"/><circle cx="146.4000000000001" cy="14.5" r="2.3" fill="#b02a2a"/><rect x="1.5" y="2.5" width="310" height="309" fill="none" stroke="#000"/><rect x="1.5" y="313.5" width="310" height="111" fill="none" stroke="#000"/><path d="M312 21.5 h4" stroke="#000"/><text x="317" y="23.8" font-size="9" font-family="Liberation Sans" fill="#000">1533.50</text><path d="M312 53.5 h4" stroke="#000"/><text x="317" y="56.3" font-size="9" font-family="Liberation Sans" fill="#000">1530.25</text><path d="M312 85.5 h4" stroke="#000"/><text x="317" y="88.8" font-size="9" font-family="Liberation Sans" fill="#000">1527.00</text><path d="M312 118.5 h4" stroke="#000"/><text x="317" y="121.3" font-size="9" font-family="Liberation Sans" fill="#000">1524.00</text><path d="M312 150.5 h4" stroke="#000"/><text x="317" y="153.3" font-size="9" font-family="Liberation Sans" fill="#000">1520.75</text><path d="M312 183.5 h4" stroke="#000"/><text x="317" y="185.8" font-size="9" font-family="Liberation Sans" fill="#000">1517.50</text><path d="M312 215.5 h4" stroke="#000"/><text x="317" y="217.8" font-size="9" font-family="Liberation Sans" fill="#000">1514.25</text><path d="M312 247.5 h4" stroke="#000"/><text x="317" y="250.3" font-size="9" font-family="Liberation Sans" fill="#000">1510.00</text><path d="M312 279.5 h4" stroke="#000"/><text x="317" y="282.3" font-size="9" font-family="Liberation Sans" fill="#000">1507.00</text><path d="M312 314.5 h4" stroke="#000"/><text x="317" y="322.1" font-size="9" font-family="Liberation Sans" fill="#000">9235.9</text><path d="M312 346.5 h4" stroke="#000"/><text x="317" y="349.3" font-size="9" font-family="Liberation Sans" fill="#000">0.0</text><path d="M312 424.5 h4" stroke="#000"/><text x="317" y="421.6" font-size="9" font-family="Liberation Sans" fill="#000">-2223.1</text><rect x="314" y="138" width="30" height="11" fill="#2f4f4f"/><text x="317" y="147" font-size="9" font-family="Liberation Sans" fill="#fff">1521.25</text><path d="M1.5 425 v5" stroke="#000"/><text x="1" y="436.7" font-size="9" font-family="Liberation Sans" fill="#000">19 Jan 2022</text><path d="M65.5 425 v5" stroke="#000"/><text x="65" y="436.7" font-size="9" font-family="Liberation Sans" fill="#000">19 Jan 15:53</text><path d="M129.5 425 v5" stroke="#000"/><text x="129" y="436.7" font-size="9" font-family="Liberation Sans" fill="#000">19 Jan 16:01</text><path d="M150.79999999999995 3 h10 l-5 5z" fill="#2f4f4f"/><g transform="translate(6,8)"><rect x="0.5" y="0.5" width="15" height="10" fill="#fff" stroke="#e04030"/><rect x="8" y="0.5" width="7.5" height="10" fill="#fff" stroke="#2070c0"/><path d="M2 3h5M2 5.5h5M2 8h5" stroke="#e04030"/><path d="M9.5 3h5M9.5 5.5h5M9.5 8h5" stroke="#2070c0"/></g><g transform="translate(26,7)"><path d="M0.5 11.5v-10h4v5h3v5z" fill="#fde0dc" stroke="#e04030"/><path d="M8.5 11.5v-6h3v-4h4v10z" fill="#cfe8fb" stroke="#2070c0"/><rect x="5" y="0.5" width="4" height="2" fill="#fff" stroke="#aaa" stroke-width="0.8"/></g><text x="47.299999999999955" y="16.8" font-size="9.5" font-family="Liberation Sans" fill="#000">MNQH22, M1:  Micro E-mini Nasdaq-100 ($2): March 2022</text><g transform="translate(293,8)"><path d="M0 4l7-3.5l7 3.5l-7 3.5z" fill="#9fd3f7" stroke="#2a88d0" stroke-width="1"/><path d="M3 5.5v3.5q4 2.5 8 0v-3.5" fill="#cfeafb" stroke="#2a88d0" stroke-width="1"/><path d="M1.5 4.5v6" stroke="#2a88d0"/><circle cx="1.5" cy="11" r="1.2" fill="#2a88d0"/></g><rect x="176" y="26" width="125" height="19" fill="#a9a9a9"/><path d="M176.5 45 V26.5 H301" fill="none" stroke="#c8c8c8" stroke-width="1.5"/><path d="M177 44 H300 V27" fill="none" stroke="#808080" stroke-width="2"/><text x="238.5" y="39.5" font-size="11.5" font-family="Liberation Mono" text-anchor="middle" fill="#1a1a1a">Вкл.Торговлю</text><rect x="176" y="49" width="60" height="19" fill="#a9a9a9"/><path d="M176.5 68 V49.5 H236" fill="none" stroke="#c8c8c8" stroke-width="1.5"/><path d="M177 67 H235 V50" fill="none" stroke="#808080" stroke-width="2"/><text x="206.0" y="62.5" font-size="10" font-family="Liberation Mono" text-anchor="middle" fill="#1a1a1a">Вкл.BUY</text><rect x="241" y="49" width="60" height="19" fill="#a9a9a9"/><path d="M241.5 68 V49.5 H301" fill="none" stroke="#c8c8c8" stroke-width="1.5"/><path d="M242 67 H300 V50" fill="none" stroke="#808080" stroke-width="2"/><text x="271.0" y="62.5" font-size="10" font-family="Liberation Mono" text-anchor="middle" fill="#1a1a1a">Вкл.SELL</text></svg><div style="position:absolute;left:570px;top:60px;width:1px;height:478px;background:#747474;"></div><div style="position:absolute;left:942px;top:60px;width:1px;height:478px;background:#747474;"></div><div style="position:absolute;left:185px;top:541px;width:1096px;height:26px;background:#f0f0f0;"></div><div style="position:absolute;left:276px;top:543px;width:1005px;height:1px;background:#111;"></div><div style="position:absolute;left:276px;top:544px;width:1005px;height:1px;background:#ffffff;"></div><svg style="position:absolute;left:1257px;top:548px" width="10" height="12"><path d="M7 1.5 L2.5 5.5 L7 9.5z" fill="#a0a0a0"/></svg><div style="position:absolute;left:189px;top:543px;width:88px;height:20px;background:#ffffff;box-sizing:border-box;border-left:1px solid #111;border-right:2px solid #111;border-bottom:2px solid #111;"></div><div style="position:absolute;left:201px;top:547.6px;font-size:11.2px;line-height:11.2px;color:#111;white-space:nowrap;font-family:"Liberation Sans", sans-serif;">MESH22,M1</div><div style="position:absolute;left:289px;top:547.6px;font-size:11.2px;line-height:11.2px;color:#78737e;white-space:nowrap;font-family:"Liberation Sans", sans-serif;">M2KH22,M1</div><div style="position:absolute;left:366px;top:547px;width:1px;height:14px;background:#666;"></div><div style="position:absolute;left:378px;top:547.6px;font-size:11.2px;line-height:11.2px;color:#78737e;white-space:nowrap;font-family:"Liberation Sans", sans-serif;">MNQH22,M1</div><div style="position:absolute;left:0px;top:562px;width:185px;height:5px;background:#f0f0f0;"></div><div style="position:absolute;left:185px;top:541px;width:3px;height:22px;background:#7a7a7a;"></div><div style="position:absolute;left:0px;top:562px;width:188px;height:1px;background:#a0a0a0;"></div><div style="position:absolute;left:0px;top:567px;width:1281px;height:1px;background:#a0a0a0;"></div><div style="position:absolute;left:0px;top:568px;width:1281px;height:24px;background:#ffffff;"></div><div style="position:absolute;left:0px;top:592px;width:1281px;height:20px;background:#e9e9e9;"></div><div style="position:absolute;left:0px;top:612px;width:1281px;height:19px;background:#ffffff;"></div><div style="position:absolute;left:0px;top:611px;width:1281px;height:1px;background:#d4d4d4;"></div><div style="position:absolute;left:0px;top:631px;width:1281px;height:1px;background:#d4d4d4;"></div><div style="position:absolute;left:0px;top:632px;width:1281px;height:4px;background:#f0f0f0;"></div><div style="position:absolute;left:116px;top:568px;width:1px;height:64px;background:#d8d8d8;"></div><div style="position:absolute;left:209px;top:568px;width:1px;height:64px;background:#d8d8d8;"></div><div style="position:absolute;left:290px;top:568px;width:1px;height:64px;background:#d8d8d8;"></div><div style="position:absolute;left:361px;top:568px;width:1px;height:64px;background:#d8d8d8;"></div><div style="position:absolute;left:455px;top:568px;width:1px;height:64px;background:#d8d8d8;"></div><div style="position:absolute;left:572px;top:568px;width:1px;height:64px;background:#d8d8d8;"></div><div style="position:absolute;left:690px;top:568px;width:1px;height:64px;background:#d8d8d8;"></div><div style="position:absolute;left:806px;top:568px;width:1px;height:64px;background:#d8d8d8;"></div><div style="position:absolute;left:923px;top:568px;width:1px;height:64px;background:#d8d8d8;"></div><div style="position:absolute;left:1017px;top:568px;width:1px;height:64px;background:#d8d8d8;"></div><div style="position:absolute;left:1134px;top:568px;width:1px;height:64px;background:#d8d8d8;"></div><svg style="position:absolute;left:14px;top:575px" width="10" height="8"><path d="M0.5 6.5 L4.5 2.5 L8.5 6.5z" fill="#111"/></svg><div style="position:absolute;right:1075px;text-align:right;top:574.2px;font-size:12px;line-height:12px;color:#111;white-space:nowrap;font-family:"Liberation Sans", sans-serif;">Символ</div><div style="position:absolute;right:995px;text-align:right;top:574.2px;font-size:12px;line-height:12px;color:#111;white-space:nowrap;font-family:"Liberation Sans", sans-serif;">Сделка</div><div style="position:absolute;right:926px;text-align:right;top:574.2px;font-size:12px;line-height:12px;color:#111;white-space:nowrap;font-family:"Liberation Sans", sans-serif;">Тип</div><div style="position:absolute;right:831px;text-align:right;top:574.2px;font-size:12px;line-height:12px;color:#111;white-space:nowrap;font-family:"Liberation Sans", sans-serif;">Направление</div><div style="position:absolute;right:714px;text-align:right;top:574.2px;font-size:12px;line-height:12px;color:#111;white-space:nowrap;font-family:"Liberation Sans", sans-serif;">Объем</div><div style="position:absolute;right:597px;text-align:right;top:574.2px;font-size:12px;line-height:12px;color:#111;white-space:nowrap;font-family:"Liberation Sans", sans-serif;">Цена</div><div style="position:absolute;right:478.5px;text-align:right;top:574.2px;font-size:12px;line-height:12px;color:#111;white-space:nowrap;font-family:"Liberation Sans", sans-serif;">S / L</div><div style="position:absolute;right:363.5px;text-align:right;top:574.2px;font-size:12px;line-height:12px;color:#111;white-space:nowrap;font-family:"Liberation Sans", sans-serif;">T / P</div><div style="position:absolute;right:269.5px;text-align:right;top:574.2px;font-size:12px;line-height:12px;color:#111;white-space:nowrap;font-family:"Liberation Sans", sans-serif;">Комиссия</div><div style="position:absolute;right:152.5px;text-align:right;top:574.2px;font-size:12px;line-height:12px;color:#111;white-space:nowrap;font-family:"Liberation Sans", sans-serif;">Прибыль</div><div style="position:absolute;right:3px;text-align:right;top:574.2px;font-size:12px;line-height:12px;color:#111;white-space:nowrap;font-family:"Liberation Sans", sans-serif;">Изменение</div><div style="position:absolute;right:1205px;text-align:right;top:595.7px;font-size:12px;line-height:12px;color:#111;white-space:nowrap;font-family:"Liberation Sans", sans-serif;letter-spacing:-0.6px;">2.01.19 16:01:48</div><div style="position:absolute;right:1075px;text-align:right;top:595.7px;font-size:12px;line-height:12px;color:#111;white-space:nowrap;font-family:"Liberation Sans", sans-serif;">m2kh22</div><div style="position:absolute;right:995px;text-align:right;top:595.7px;font-size:12px;line-height:12px;color:#111;white-space:nowrap;font-family:"Liberation Sans", sans-serif;letter-spacing:-0.6px;">16251414</div><div style="position:absolute;right:926px;text-align:right;top:595.7px;font-size:12px;line-height:12px;color:#111;white-space:nowrap;font-family:"Liberation Sans", sans-serif;">sell</div><div style="position:absolute;right:831px;text-align:right;top:595.7px;font-size:12px;line-height:12px;color:#111;white-space:nowrap;font-family:"Liberation Sans", sans-serif;">out</div><div style="position:absolute;right:714px;text-align:right;top:595.7px;font-size:12px;line-height:12px;color:#111;white-space:nowrap;font-family:"Liberation Sans", sans-serif;letter-spacing:-0.6px;">1</div><div style="position:absolute;right:597px;text-align:right;top:595.7px;font-size:12px;line-height:12px;color:#111;white-space:nowrap;font-family:"Liberation Sans", sans-serif;letter-spacing:-0.6px;">2084.4</div><div style="position:absolute;right:478.5px;text-align:right;top:595.7px;font-size:12px;line-height:12px;color:#111;white-space:nowrap;font-family:"Liberation Sans", sans-serif;letter-spacing:-0.6px;">2076.5</div><div style="position:absolute;right:363.5px;text-align:right;top:595.7px;font-size:12px;line-height:12px;color:#111;white-space:nowrap;font-family:"Liberation Sans", sans-serif;letter-spacing:-0.6px;">2086.3</div><div style="position:absolute;right:267.6px;text-align:right;top:595.7px;font-size:12px;line-height:12px;color:#111;white-space:nowrap;font-family:"Liberation Sans", sans-serif;letter-spacing:-0.6px;">-0.42</div><div style="position:absolute;right:1205px;text-align:right;top:615.7px;font-size:12px;line-height:12px;color:#111;white-space:nowrap;font-family:"Liberation Sans", sans-serif;letter-spacing:-0.6px;">2.01.19 16:02:19</div><div style="position:absolute;right:1075px;text-align:right;top:615.7px;font-size:12px;line-height:12px;color:#111;white-space:nowrap;font-family:"Liberation Sans", sans-serif;">mesh22</div><div style="position:absolute;right:995px;text-align:right;top:615.7px;font-size:12px;line-height:12px;color:#111;white-space:nowrap;font-family:"Liberation Sans", sans-serif;letter-spacing:-0.6px;">16251438</div><div style="position:absolute;right:926px;text-align:right;top:615.7px;font-size:12px;line-height:12px;color:#111;white-space:nowrap;font-family:"Liberation Sans", sans-serif;">buy</div><div style="position:absolute;right:831px;text-align:right;top:615.7px;font-size:12px;line-height:12px;color:#111;white-space:nowrap;font-family:"Liberation Sans", sans-serif;">out</div><div style="position:absolute;right:714px;text-align:right;top:615.7px;font-size:12px;line-height:12px;color:#111;white-space:nowrap;font-family:"Liberation Sans", sans-serif;letter-spacing:-0.6px;">1</div><div style="position:absolute;right:597px;text-align:right;top:615.7px;font-size:12px;line-height:12px;color:#111;white-space:nowrap;font-family:"Liberation Sans", sans-serif;letter-spacing:-0.6px;">4567.50</div><div style="position:absolute;right:478.5px;text-align:right;top:615.7px;font-size:12px;line-height:12px;color:#111;white-space:nowrap;font-family:"Liberation Sans", sans-serif;letter-spacing:-0.6px;">4570.75</div><div style="position:absolute;right:267.6px;text-align:right;top:615.7px;font-size:12px;line-height:12px;color:#111;white-space:nowrap;font-family:"Liberation Sans", sans-serif;letter-spacing:-0.6px;">-0.42</div><div style="position:absolute;right:151px;text-align:right;top:595.7px;font-size:12px;line-height:12px;color:#1a1aff;white-space:nowrap;font-family:"Liberation Sans", sans-serif;letter-spacing:-0.6px;">0.50</div><div style="position:absolute;right:2px;text-align:right;top:595.7px;font-size:12px;line-height:12px;color:#1a1aff;white-space:nowrap;font-family:"Liberation Sans", sans-serif;letter-spacing:-0.6px;">0.09 %</div><div style="position:absolute;right:2px;text-align:right;top:615.7px;font-size:12px;line-height:12px;color:#1a1aff;white-space:nowrap;font-family:"Liberation Sans", sans-serif;letter-spacing:-0.6px;">0.08 %</div><div style="position:absolute;left:0px;top:634px;width:92px;height:2px;background:#ffffff;box-sizing:border-box;border-top:1px solid #111;border-right:1px solid #111;"></div><div style="position:absolute;left:157px;top:634px;width:1124px;height:2px;background:#ffffff;box-sizing:border-box;border-top:1px solid #111;border-left:1px solid #111;"></div><div style="position:absolute;left:946px;top:588.5px;font-size:19.8px;line-height:19.8px;color:rgba(130,130,130,0.5);white-space:nowrap;font-family:"Liberation Sans", sans-serif;">Активация Windows</div><div style="position:absolute;left:946px;top:613.3px;font-size:14.9px;line-height:14.9px;color:rgba(130,130,130,0.5);white-space:nowrap;font-family:"Liberation Sans", sans-serif;">Чтобы активировать Windows, перейдите в</div><div style="position:absolute;left:1050px;top:603px;width:41px;height:33px;background:#5a5a5a;"></div><div style="position:absolute;left:1091px;top:603px;width:40px;height:33px;background:#474747;"></div><svg style="position:absolute;left:1050px;top:603px" width="81" height="33"><path d="M14 26 q8 -2 17 -14 q-10 4 -17 14z" fill="#9a4ad8"/><path d="M13 27 l4 -3" stroke="#c080ff" stroke-width="1.5"/><circle cx="61" cy="19" r="8" fill="#5bb82a"/><path d="M57 19 l3 3 l5 -5" fill="none" stroke="#fff" stroke-width="1.8"/></svg></body></html>
